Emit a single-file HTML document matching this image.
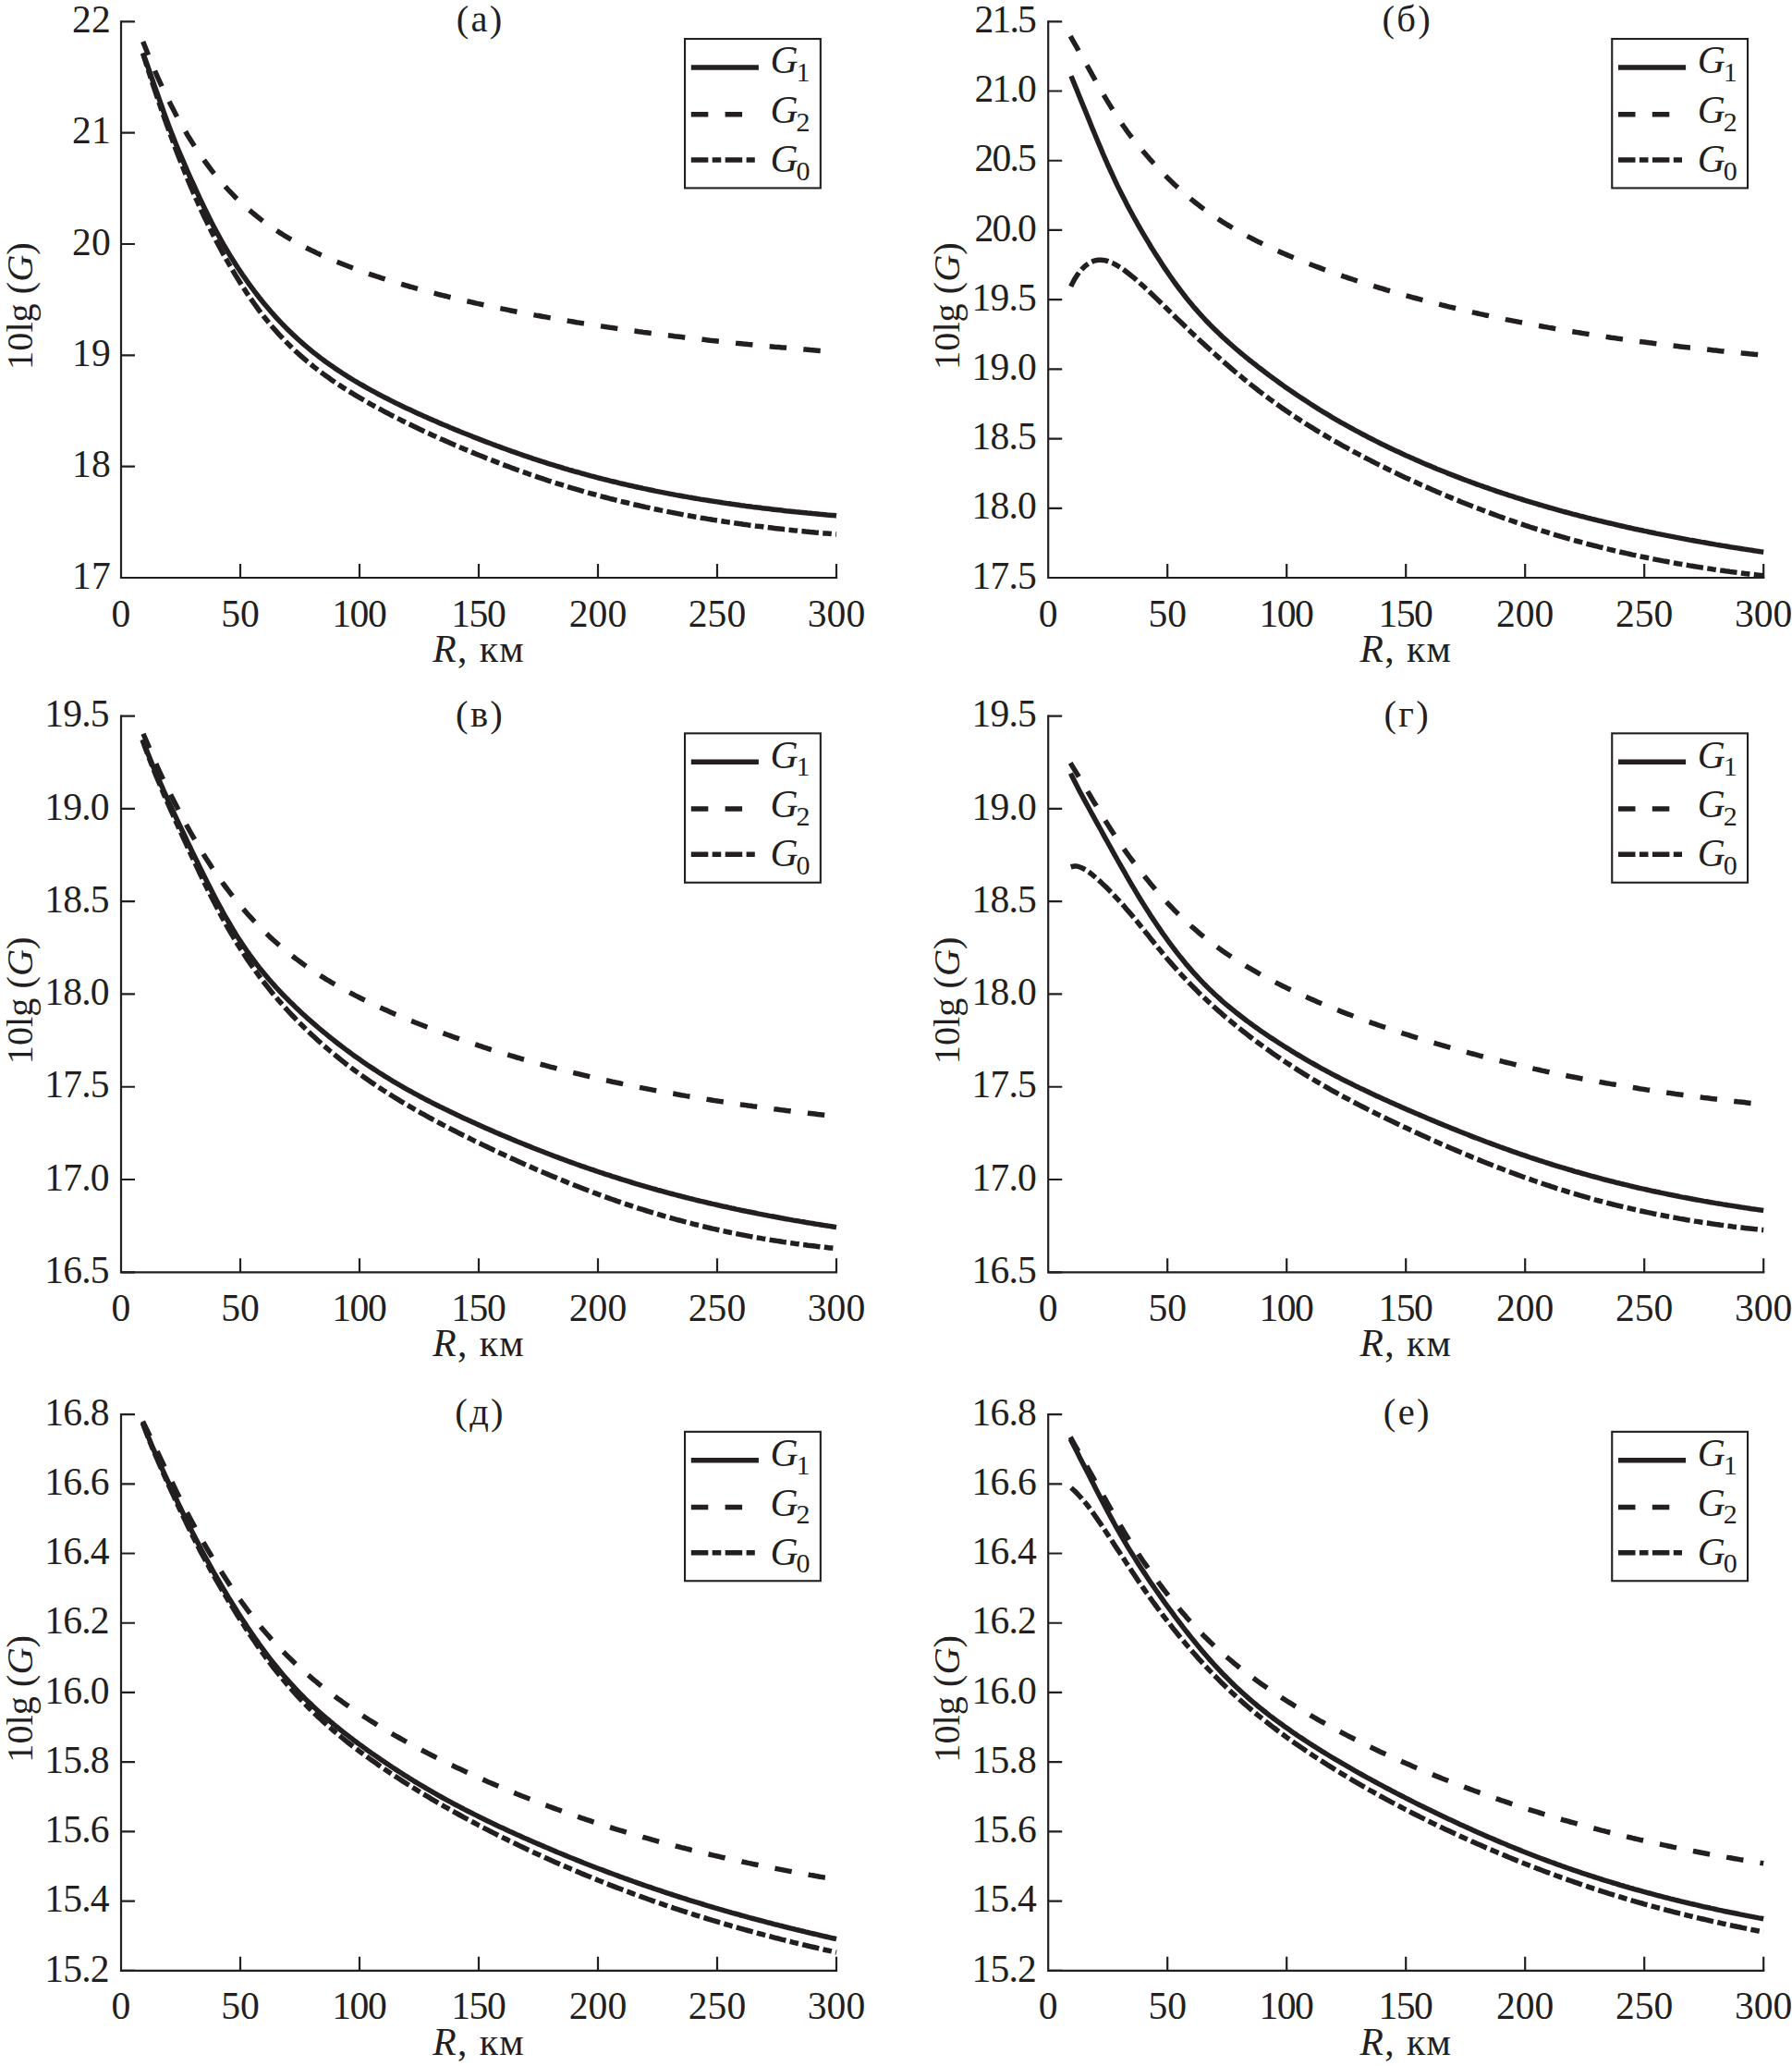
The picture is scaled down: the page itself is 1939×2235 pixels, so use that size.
<!DOCTYPE html>
<html><head><meta charset="utf-8"><title>fig</title>
<style>html,body{margin:0;padding:0;background:#fff}svg{display:block}text{font-family:"Liberation Serif",serif;fill:#231f20}.t{font-size:41.6px}.tt{font-size:40.5px;letter-spacing:2.3px}.s{font-size:30px}.i{font-style:italic}</style></head><body>
<svg width="1939" height="2235" viewBox="0 0 1939 2235">
<rect width="1939" height="2235" fill="#fff"/>
<g id="p_a">
<path d="M131 22.2 V625 H906.1" fill="none" stroke="#231f20" stroke-width="2.2" stroke-linejoin="miter"/>
<text class="t" x="119.7" y="35" text-anchor="end">22</text>
<text class="t" x="119.7" y="155.34" text-anchor="end">21</text>
<text class="t" x="119.7" y="275.68" text-anchor="end">20</text>
<text class="t" x="119.7" y="396.02" text-anchor="end">19</text>
<text class="t" x="119.7" y="516.36" text-anchor="end">18</text>
<text class="t" x="119.7" y="636.7" text-anchor="end">17</text>
<text class="t" x="131" y="677.6" text-anchor="middle">0</text>
<text class="t" x="260" y="677.6" text-anchor="middle">50</text>
<text class="t" x="359.3" y="677.6" textLength="59.4" lengthAdjust="spacing">100</text>
<text class="t" x="488.3" y="677.6" textLength="59.4" lengthAdjust="spacing">150</text>
<text class="t" x="647" y="677.6" text-anchor="middle">200</text>
<text class="t" x="776" y="677.6" text-anchor="middle">250</text>
<text class="t" x="905" y="677.6" text-anchor="middle">300</text>
<path d="M131 23.3h15M131 143.64h15M131 263.98h15M131 384.32h15M131 504.66h15M131 625h15M260 625v-15M389 625v-15M518 625v-15M647 625v-15M776 625v-15M905 625v-15" fill="none" stroke="#231f20" stroke-width="2.2"/>
<text class="tt" x="519.6" y="34.2" text-anchor="middle">(а)</text>
<text class="t" x="468.2" y="715.7" textLength="98.5" lengthAdjust="spacing"><tspan class="i">R</tspan>, км</text>
<text style="font-size:40.3px" transform="translate(34.8 399.9) rotate(-90)">10lg (<tspan class="i">G</tspan>)</text>
<path d="M154.7 44.9 L156.8 50.2 L159.4 56.7 L162.0 63.1 L164.5 69.4 L167.1 75.5 L169.7 81.5 L172.3 87.3 L174.9 92.9 L177.4 98.4 L180.0 103.8 L182.6 109.0 L185.2 114.1 L187.8 119.1 L190.3 123.9 L192.9 128.7 L195.5 133.3 L198.1 137.8 L200.7 142.2 L203.2 146.6 L205.8 150.8 L208.4 154.9 L211.0 158.9 L213.6 162.8 L216.1 166.6 L218.7 170.3 L221.3 174.0 L223.9 177.5 L226.5 181.0 L229.0 184.3 L231.6 187.6 L234.2 190.8 L236.8 193.9 L239.4 196.9 L241.9 199.9 L244.5 202.7 L247.1 205.5 L249.7 208.2 L252.3 210.9 L254.8 213.5 L257.4 216.0 L260.0 218.4 L262.6 220.8 L265.2 223.2 L267.7 225.5 L270.3 227.7 L272.9 229.9 L275.5 232.0 L278.1 234.1 L280.6 236.1 L283.2 238.1 L285.8 240.0 L288.4 241.9 L291.0 243.7 L293.5 245.6 L296.1 247.3 L298.7 249.1 L301.3 250.7 L303.9 252.4 L306.4 254.0 L309.0 255.6 L311.6 257.2 L314.2 258.7 L316.8 260.2 L319.3 261.6 L321.9 263.1 L324.5 264.5 L327.1 265.8 L329.7 267.2 L332.2 268.5 L334.8 269.8 L337.4 271.1 L340.0 272.3 L342.6 273.6 L345.1 274.8 L347.7 276.0 L350.3 277.1 L352.9 278.3 L355.5 279.4 L358.0 280.5 L360.6 281.6 L363.2 282.7 L365.8 283.7 L368.4 284.8 L370.9 285.8 L373.5 286.8 L376.1 287.8 L378.7 288.8 L381.3 289.8 L383.8 290.8 L386.4 291.7 L389.0 292.7 L391.6 293.6 L394.2 294.5 L396.7 295.4 L399.3 296.3 L401.9 297.2 L404.5 298.0 L407.1 298.9 L409.6 299.7 L412.2 300.6 L414.8 301.4 L417.4 302.2 L420.0 303.0 L422.5 303.8 L425.1 304.6 L427.7 305.4 L430.3 306.2 L432.9 307.0 L435.4 307.7 L438.0 308.5 L440.6 309.2 L443.2 310.0 L445.8 310.7 L448.3 311.4 L450.9 312.1 L453.5 312.9 L456.1 313.6 L458.7 314.3 L461.2 314.9 L463.8 315.6 L466.4 316.3 L469.0 317.0 L471.6 317.6 L474.1 318.3 L476.7 319.0 L479.3 319.6 L481.9 320.2 L484.5 320.9 L487.0 321.5 L489.6 322.1 L492.2 322.7 L494.8 323.4 L497.4 324.0 L499.9 324.6 L502.5 325.2 L505.1 325.8 L507.7 326.3 L510.3 326.9 L512.8 327.5 L515.4 328.1 L518.0 328.6 L520.6 329.2 L523.2 329.8 L525.7 330.3 L528.3 330.9 L530.9 331.4 L533.5 332.0 L536.1 332.5 L538.6 333.0 L541.2 333.6 L543.8 334.1 L546.4 334.6 L549.0 335.1 L551.5 335.7 L554.1 336.2 L556.7 336.7 L559.3 337.2 L561.9 337.7 L564.4 338.2 L567.0 338.7 L569.6 339.2 L572.2 339.6 L574.8 340.1 L577.3 340.6 L579.9 341.1 L582.5 341.5 L585.1 342.0 L587.7 342.5 L590.2 342.9 L592.8 343.4 L595.4 343.9 L598.0 344.3 L600.6 344.8 L603.1 345.2 L605.7 345.6 L608.3 346.1 L610.9 346.5 L613.5 347.0 L616.0 347.4 L618.6 347.8 L621.2 348.2 L623.8 348.7 L626.4 349.1 L628.9 349.5 L631.5 349.9 L634.1 350.3 L636.7 350.7 L639.3 351.1 L641.8 351.5 L644.4 351.9 L647.0 352.3 L649.6 352.7 L652.2 353.1 L654.7 353.5 L657.3 353.9 L659.9 354.3 L662.5 354.6 L665.1 355.0 L667.6 355.4 L670.2 355.8 L672.8 356.1 L675.4 356.5 L678.0 356.9 L680.5 357.2 L683.1 357.6 L685.7 358.0 L688.3 358.3 L690.9 358.7 L693.4 359.0 L696.0 359.4 L698.6 359.7 L701.2 360.0 L703.8 360.4 L706.3 360.7 L708.9 361.1 L711.5 361.4 L714.1 361.7 L716.7 362.0 L719.2 362.4 L721.8 362.7 L724.4 363.0 L727.0 363.3 L729.6 363.7 L732.1 364.0 L734.7 364.3 L737.3 364.6 L739.9 364.9 L742.5 365.2 L745.0 365.5 L747.6 365.8 L750.2 366.1 L752.8 366.4 L755.4 366.7 L757.9 367.0 L760.5 367.3 L763.1 367.6 L765.7 367.9 L768.3 368.2 L770.8 368.4 L773.4 368.7 L776.0 369.0 L778.6 369.3 L781.2 369.6 L783.7 369.8 L786.3 370.1 L788.9 370.4 L791.5 370.6 L794.1 370.9 L796.6 371.2 L799.2 371.4 L801.8 371.7 L804.4 372.0 L807.0 372.2 L809.5 372.5 L812.1 372.7 L814.7 373.0 L817.3 373.2 L819.9 373.5 L822.4 373.7 L825.0 374.0 L827.6 374.2 L830.2 374.5 L832.8 374.7 L835.3 374.9 L837.9 375.2 L840.5 375.4 L843.1 375.6 L845.7 375.9 L848.2 376.1 L850.8 376.3 L853.4 376.6 L856.0 376.8 L858.6 377.0 L861.1 377.2 L863.7 377.5 L866.3 377.7 L868.9 377.9 L871.5 378.1 L874.0 378.3 L876.6 378.6 L879.2 378.8 L881.8 379.0 L884.4 379.2 L886.9 379.4 L889.5 379.6 L892.1 379.8 L894.7 380.0 L897.3 380.2 L899.8 380.4 L902.4 380.6 L905.0 380.8" fill="none" stroke="#231f20" stroke-width="5.5" stroke-dasharray="18.5 18.3" stroke-dashoffset="2.7" stroke-linejoin="round"/>
<path d="M154.7 58.2 L156.8 64.7 L159.4 72.8 L162.0 80.7 L164.5 88.6 L167.1 96.3 L169.7 104.0 L172.3 111.5 L174.9 119.0 L177.4 126.4 L180.0 133.7 L182.6 140.8 L185.2 147.9 L187.8 154.9 L190.3 161.7 L192.9 168.4 L195.5 175.1 L198.1 181.6 L200.7 188.0 L203.2 194.2 L205.8 200.4 L208.4 206.4 L211.0 212.4 L213.6 218.2 L216.1 223.9 L218.7 229.5 L221.3 235.0 L223.9 240.3 L226.5 245.6 L229.0 250.8 L231.6 255.9 L234.2 260.9 L236.8 265.8 L239.4 270.6 L241.9 275.3 L244.5 279.9 L247.1 284.5 L249.7 288.9 L252.3 293.3 L254.8 297.6 L257.4 301.8 L260.0 306.0 L262.6 310.0 L265.2 314.0 L267.7 317.9 L270.3 321.7 L272.9 325.4 L275.5 329.0 L278.1 332.6 L280.6 336.1 L283.2 339.5 L285.8 342.8 L288.4 346.0 L291.0 349.2 L293.5 352.3 L296.1 355.3 L298.7 358.2 L301.3 361.1 L303.9 363.9 L306.4 366.6 L309.0 369.3 L311.6 371.9 L314.2 374.5 L316.8 377.0 L319.3 379.4 L321.9 381.8 L324.5 384.1 L327.1 386.4 L329.7 388.6 L332.2 390.8 L334.8 392.9 L337.4 395.0 L340.0 397.1 L342.6 399.1 L345.1 401.1 L347.7 403.0 L350.3 404.9 L352.9 406.8 L355.5 408.6 L358.0 410.4 L360.6 412.2 L363.2 414.0 L365.8 415.7 L368.4 417.4 L370.9 419.1 L373.5 420.7 L376.1 422.4 L378.7 424.0 L381.3 425.5 L383.8 427.1 L386.4 428.7 L389.0 430.2 L391.6 431.7 L394.2 433.2 L396.7 434.7 L399.3 436.1 L401.9 437.6 L404.5 439.0 L407.1 440.4 L409.6 441.8 L412.2 443.2 L414.8 444.6 L417.4 446.0 L420.0 447.3 L422.5 448.7 L425.1 450.0 L427.7 451.3 L430.3 452.6 L432.9 453.9 L435.4 455.2 L438.0 456.5 L440.6 457.8 L443.2 459.0 L445.8 460.3 L448.3 461.5 L450.9 462.7 L453.5 464.0 L456.1 465.2 L458.7 466.4 L461.2 467.6 L463.8 468.8 L466.4 470.0 L469.0 471.2 L471.6 472.3 L474.1 473.5 L476.7 474.7 L479.3 475.8 L481.9 476.9 L484.5 478.1 L487.0 479.2 L489.6 480.3 L492.2 481.5 L494.8 482.6 L497.4 483.7 L499.9 484.8 L502.5 485.9 L505.1 486.9 L507.7 488.0 L510.3 489.1 L512.8 490.1 L515.4 491.2 L518.0 492.3 L520.6 493.3 L523.2 494.3 L525.7 495.4 L528.3 496.4 L530.9 497.4 L533.5 498.4 L536.1 499.4 L538.6 500.4 L541.2 501.4 L543.8 502.4 L546.4 503.4 L549.0 504.3 L551.5 505.3 L554.1 506.3 L556.7 507.2 L559.3 508.2 L561.9 509.1 L564.4 510.0 L567.0 510.9 L569.6 511.8 L572.2 512.8 L574.8 513.7 L577.3 514.5 L579.9 515.4 L582.5 516.3 L585.1 517.2 L587.7 518.0 L590.2 518.9 L592.8 519.8 L595.4 520.6 L598.0 521.4 L600.6 522.3 L603.1 523.1 L605.7 523.9 L608.3 524.7 L610.9 525.5 L613.5 526.3 L616.0 527.1 L618.6 527.9 L621.2 528.6 L623.8 529.4 L626.4 530.1 L628.9 530.9 L631.5 531.6 L634.1 532.4 L636.7 533.1 L639.3 533.8 L641.8 534.5 L644.4 535.2 L647.0 536.0 L649.6 536.6 L652.2 537.3 L654.7 538.0 L657.3 538.7 L659.9 539.4 L662.5 540.0 L665.1 540.7 L667.6 541.3 L670.2 542.0 L672.8 542.6 L675.4 543.2 L678.0 543.8 L680.5 544.4 L683.1 545.1 L685.7 545.7 L688.3 546.2 L690.9 546.8 L693.4 547.4 L696.0 548.0 L698.6 548.6 L701.2 549.1 L703.8 549.7 L706.3 550.2 L708.9 550.8 L711.5 551.3 L714.1 551.9 L716.7 552.4 L719.2 552.9 L721.8 553.4 L724.4 553.9 L727.0 554.4 L729.6 554.9 L732.1 555.4 L734.7 555.9 L737.3 556.4 L739.9 556.9 L742.5 557.3 L745.0 557.8 L747.6 558.3 L750.2 558.7 L752.8 559.2 L755.4 559.6 L757.9 560.1 L760.5 560.5 L763.1 560.9 L765.7 561.4 L768.3 561.8 L770.8 562.2 L773.4 562.6 L776.0 563.0 L778.6 563.4 L781.2 563.8 L783.7 564.2 L786.3 564.6 L788.9 565.0 L791.5 565.3 L794.1 565.7 L796.6 566.1 L799.2 566.4 L801.8 566.8 L804.4 567.2 L807.0 567.5 L809.5 567.9 L812.1 568.2 L814.7 568.5 L817.3 568.9 L819.9 569.2 L822.4 569.5 L825.0 569.8 L827.6 570.2 L830.2 570.5 L832.8 570.8 L835.3 571.1 L837.9 571.4 L840.5 571.7 L843.1 572.0 L845.7 572.3 L848.2 572.6 L850.8 572.8 L853.4 573.1 L856.0 573.4 L858.6 573.7 L861.1 573.9 L863.7 574.2 L866.3 574.5 L868.9 574.7 L871.5 575.0 L874.0 575.2 L876.6 575.5 L879.2 575.7 L881.8 576.0 L884.4 576.2 L886.9 576.4 L889.5 576.7 L892.1 576.9 L894.7 577.1 L897.3 577.3 L899.8 577.6 L902.4 577.8 L905.0 578.0" fill="none" stroke="#231f20" stroke-width="5.5" stroke-dasharray="18.5 4.4 9.6 4.4" stroke-dashoffset="4.7" stroke-linejoin="round"/>
<path d="M154.7 57.3 L156.8 63.1 L159.4 70.5 L162.0 77.9 L164.5 85.2 L167.1 92.6 L169.7 99.9 L172.3 107.3 L174.9 114.6 L177.4 121.9 L180.0 129.0 L182.6 136.0 L185.2 142.8 L187.8 149.3 L190.3 155.7 L192.9 162.0 L195.5 168.1 L198.1 174.2 L200.7 180.1 L203.2 186.0 L205.8 191.8 L208.4 197.5 L211.0 203.2 L213.6 208.8 L216.1 214.4 L218.7 219.8 L221.3 225.2 L223.9 230.5 L226.5 235.7 L229.0 240.8 L231.6 245.8 L234.2 250.6 L236.8 255.4 L239.4 260.0 L241.9 264.6 L244.5 269.0 L247.1 273.4 L249.7 277.6 L252.3 281.7 L254.8 285.8 L257.4 289.8 L260.0 293.6 L262.6 297.5 L265.2 301.2 L267.7 304.8 L270.3 308.4 L272.9 311.9 L275.5 315.4 L278.1 318.7 L280.6 322.0 L283.2 325.2 L285.8 328.4 L288.4 331.5 L291.0 334.5 L293.5 337.5 L296.1 340.4 L298.7 343.3 L301.3 346.1 L303.9 348.8 L306.4 351.5 L309.0 354.1 L311.6 356.7 L314.2 359.2 L316.8 361.7 L319.3 364.1 L321.9 366.5 L324.5 368.8 L327.1 371.1 L329.7 373.4 L332.2 375.5 L334.8 377.7 L337.4 379.8 L340.0 381.9 L342.6 383.9 L345.1 385.9 L347.7 387.9 L350.3 389.8 L352.9 391.7 L355.5 393.5 L358.0 395.3 L360.6 397.1 L363.2 398.9 L365.8 400.6 L368.4 402.3 L370.9 404.0 L373.5 405.6 L376.1 407.3 L378.7 408.9 L381.3 410.5 L383.8 412.0 L386.4 413.5 L389.0 415.1 L391.6 416.5 L394.2 418.0 L396.7 419.5 L399.3 420.9 L401.9 422.3 L404.5 423.7 L407.1 425.1 L409.6 426.5 L412.2 427.8 L414.8 429.2 L417.4 430.5 L420.0 431.8 L422.5 433.1 L425.1 434.4 L427.7 435.7 L430.3 436.9 L432.9 438.2 L435.4 439.4 L438.0 440.7 L440.6 441.9 L443.2 443.1 L445.8 444.3 L448.3 445.5 L450.9 446.7 L453.5 447.9 L456.1 449.0 L458.7 450.2 L461.2 451.3 L463.8 452.5 L466.4 453.6 L469.0 454.7 L471.6 455.8 L474.1 457.0 L476.7 458.1 L479.3 459.2 L481.9 460.2 L484.5 461.3 L487.0 462.4 L489.6 463.5 L492.2 464.6 L494.8 465.6 L497.4 466.7 L499.9 467.7 L502.5 468.8 L505.1 469.8 L507.7 470.8 L510.3 471.8 L512.8 472.9 L515.4 473.9 L518.0 474.9 L520.6 475.9 L523.2 476.9 L525.7 477.9 L528.3 478.8 L530.9 479.8 L533.5 480.8 L536.1 481.7 L538.6 482.7 L541.2 483.6 L543.8 484.6 L546.4 485.5 L549.0 486.5 L551.5 487.4 L554.1 488.3 L556.7 489.2 L559.3 490.1 L561.9 491.0 L564.4 491.9 L567.0 492.8 L569.6 493.7 L572.2 494.5 L574.8 495.4 L577.3 496.3 L579.9 497.1 L582.5 498.0 L585.1 498.8 L587.7 499.6 L590.2 500.4 L592.8 501.3 L595.4 502.1 L598.0 502.9 L600.6 503.7 L603.1 504.5 L605.7 505.2 L608.3 506.0 L610.9 506.8 L613.5 507.5 L616.0 508.3 L618.6 509.0 L621.2 509.8 L623.8 510.5 L626.4 511.2 L628.9 512.0 L631.5 512.7 L634.1 513.4 L636.7 514.1 L639.3 514.8 L641.8 515.4 L644.4 516.1 L647.0 516.8 L649.6 517.5 L652.2 518.1 L654.7 518.8 L657.3 519.4 L659.9 520.1 L662.5 520.7 L665.1 521.3 L667.6 521.9 L670.2 522.6 L672.8 523.2 L675.4 523.8 L678.0 524.4 L680.5 525.0 L683.1 525.5 L685.7 526.1 L688.3 526.7 L690.9 527.3 L693.4 527.8 L696.0 528.4 L698.6 528.9 L701.2 529.5 L703.8 530.0 L706.3 530.5 L708.9 531.1 L711.5 531.6 L714.1 532.1 L716.7 532.6 L719.2 533.1 L721.8 533.6 L724.4 534.1 L727.0 534.6 L729.6 535.1 L732.1 535.6 L734.7 536.0 L737.3 536.5 L739.9 537.0 L742.5 537.4 L745.0 537.9 L747.6 538.3 L750.2 538.8 L752.8 539.2 L755.4 539.6 L757.9 540.1 L760.5 540.5 L763.1 540.9 L765.7 541.3 L768.3 541.7 L770.8 542.1 L773.4 542.5 L776.0 542.9 L778.6 543.3 L781.2 543.7 L783.7 544.1 L786.3 544.5 L788.9 544.8 L791.5 545.2 L794.1 545.6 L796.6 545.9 L799.2 546.3 L801.8 546.7 L804.4 547.0 L807.0 547.4 L809.5 547.7 L812.1 548.0 L814.7 548.4 L817.3 548.7 L819.9 549.0 L822.4 549.3 L825.0 549.7 L827.6 550.0 L830.2 550.3 L832.8 550.6 L835.3 550.9 L837.9 551.2 L840.5 551.5 L843.1 551.8 L845.7 552.1 L848.2 552.4 L850.8 552.7 L853.4 552.9 L856.0 553.2 L858.6 553.5 L861.1 553.8 L863.7 554.0 L866.3 554.3 L868.9 554.5 L871.5 554.8 L874.0 555.1 L876.6 555.3 L879.2 555.6 L881.8 555.8 L884.4 556.0 L886.9 556.3 L889.5 556.5 L892.1 556.7 L894.7 557.0 L897.3 557.2 L899.8 557.4 L902.4 557.6 L905.0 557.9" fill="none" stroke="#231f20" stroke-width="5.5" stroke-linejoin="round"/>
<rect x="741.05" y="42.05" width="146.8" height="161.4" fill="#fff" stroke="#231f20" stroke-width="2.1"/>
<path d="M747.8 73h73.1" stroke="#231f20" stroke-width="5.5" fill="none"/>
<path d="M747.8 123.7h55.3" stroke="#231f20" stroke-width="5.5" stroke-dasharray="18.5 18.3" fill="none"/>
<path d="M747.8 172.9h69" stroke="#231f20" stroke-width="5.5" stroke-dasharray="18.5 4.4 9.6 4.4" fill="none"/>
<text class="t i" x="833.6" y="79.2">G<tspan class="s" style="font-style:normal" dx="-2.2" dy="8.6">1</tspan></text>
<text class="t i" x="833.6" y="133">G<tspan class="s" style="font-style:normal" dx="-2.2" dy="8.6">2</tspan></text>
<text class="t i" x="833.6" y="185.9">G<tspan class="s" style="font-style:normal" dx="-2.2" dy="8.6">0</tspan></text>
</g>
<g id="p_b">
<path d="M1134.2 22.2 V625 H1909.3" fill="none" stroke="#231f20" stroke-width="2.2" stroke-linejoin="miter"/>
<text class="t" x="1054.5" y="35" textLength="67.3" lengthAdjust="spacing">21.5</text>
<text class="t" x="1054.5" y="110.21" textLength="67.3" lengthAdjust="spacing">21.0</text>
<text class="t" x="1054.5" y="185.43" textLength="67.3" lengthAdjust="spacing">20.5</text>
<text class="t" x="1054.5" y="260.64" textLength="67.3" lengthAdjust="spacing">20.0</text>
<text class="t" x="1051.4" y="335.85" textLength="70.4" lengthAdjust="spacing">19.5</text>
<text class="t" x="1051.4" y="411.06" textLength="70.4" lengthAdjust="spacing">19.0</text>
<text class="t" x="1051.4" y="486.28" textLength="70.4" lengthAdjust="spacing">18.5</text>
<text class="t" x="1051.4" y="561.49" textLength="70.4" lengthAdjust="spacing">18.0</text>
<text class="t" x="1051.4" y="636.7" textLength="70.4" lengthAdjust="spacing">17.5</text>
<text class="t" x="1134.2" y="677.6" text-anchor="middle">0</text>
<text class="t" x="1263.2" y="677.6" text-anchor="middle">50</text>
<text class="t" x="1362.5" y="677.6" textLength="59.4" lengthAdjust="spacing">100</text>
<text class="t" x="1491.5" y="677.6" textLength="59.4" lengthAdjust="spacing">150</text>
<text class="t" x="1650.2" y="677.6" text-anchor="middle">200</text>
<text class="t" x="1779.2" y="677.6" text-anchor="middle">250</text>
<text class="t" x="1908.2" y="677.6" text-anchor="middle">300</text>
<path d="M1134.2 23.3h15M1134.2 98.51h15M1134.2 173.73h15M1134.2 248.94h15M1134.2 324.15h15M1134.2 399.36h15M1134.2 474.58h15M1134.2 549.79h15M1134.2 625h15M1263.2 625v-15M1392.2 625v-15M1521.2 625v-15M1650.2 625v-15M1779.2 625v-15M1908.2 625v-15" fill="none" stroke="#231f20" stroke-width="2.2"/>
<text class="tt" x="1522.8" y="34.2" text-anchor="middle">(б)</text>
<text class="t" x="1471.4" y="715.7" textLength="98.5" lengthAdjust="spacing"><tspan class="i">R</tspan>, км</text>
<text style="font-size:40.3px" transform="translate(1038 399.9) rotate(-90)">10lg (<tspan class="i">G</tspan>)</text>
<path d="M1158.2 39.2 L1160.0 42.3 L1162.6 46.9 L1165.2 51.4 L1167.7 56.0 L1170.3 60.5 L1172.9 65.1 L1175.5 69.6 L1178.1 74.2 L1180.6 78.7 L1183.2 83.3 L1185.8 87.8 L1188.4 92.4 L1191.0 96.9 L1193.5 101.4 L1196.1 105.8 L1198.7 110.2 L1201.3 114.4 L1203.9 118.6 L1206.4 122.7 L1209.0 126.7 L1211.6 130.6 L1214.2 134.4 L1216.8 138.0 L1219.3 141.6 L1221.9 145.1 L1224.5 148.5 L1227.1 151.8 L1229.7 155.0 L1232.2 158.2 L1234.8 161.3 L1237.4 164.3 L1240.0 167.3 L1242.6 170.3 L1245.1 173.2 L1247.7 176.0 L1250.3 178.8 L1252.9 181.6 L1255.5 184.3 L1258.0 187.0 L1260.6 189.6 L1263.2 192.2 L1265.8 194.7 L1268.4 197.2 L1270.9 199.7 L1273.5 202.1 L1276.1 204.4 L1278.7 206.7 L1281.3 209.0 L1283.8 211.2 L1286.4 213.4 L1289.0 215.6 L1291.6 217.7 L1294.2 219.7 L1296.7 221.7 L1299.3 223.7 L1301.9 225.6 L1304.5 227.5 L1307.1 229.4 L1309.6 231.2 L1312.2 233.0 L1314.8 234.7 L1317.4 236.4 L1320.0 238.1 L1322.5 239.8 L1325.1 241.4 L1327.7 243.0 L1330.3 244.5 L1332.9 246.1 L1335.4 247.6 L1338.0 249.1 L1340.6 250.5 L1343.2 251.9 L1345.8 253.3 L1348.3 254.7 L1350.9 256.1 L1353.5 257.4 L1356.1 258.8 L1358.7 260.1 L1361.2 261.4 L1363.8 262.6 L1366.4 263.9 L1369.0 265.1 L1371.6 266.3 L1374.1 267.6 L1376.7 268.7 L1379.3 269.9 L1381.9 271.1 L1384.5 272.2 L1387.0 273.4 L1389.6 274.5 L1392.2 275.6 L1394.8 276.7 L1397.4 277.8 L1399.9 278.8 L1402.5 279.9 L1405.1 280.9 L1407.7 282.0 L1410.3 283.0 L1412.8 284.0 L1415.4 285.0 L1418.0 286.0 L1420.6 287.0 L1423.2 288.0 L1425.7 288.9 L1428.3 289.9 L1430.9 290.9 L1433.5 291.8 L1436.1 292.7 L1438.6 293.7 L1441.2 294.6 L1443.8 295.5 L1446.4 296.4 L1449.0 297.3 L1451.5 298.2 L1454.1 299.1 L1456.7 299.9 L1459.3 300.8 L1461.9 301.7 L1464.4 302.5 L1467.0 303.4 L1469.6 304.2 L1472.2 305.0 L1474.8 305.9 L1477.3 306.7 L1479.9 307.5 L1482.5 308.3 L1485.1 309.1 L1487.7 309.9 L1490.2 310.7 L1492.8 311.5 L1495.4 312.2 L1498.0 313.0 L1500.6 313.8 L1503.1 314.5 L1505.7 315.3 L1508.3 316.0 L1510.9 316.8 L1513.5 317.5 L1516.0 318.3 L1518.6 319.0 L1521.2 319.7 L1523.8 320.4 L1526.4 321.1 L1528.9 321.8 L1531.5 322.5 L1534.1 323.2 L1536.7 323.9 L1539.3 324.6 L1541.8 325.3 L1544.4 325.9 L1547.0 326.6 L1549.6 327.3 L1552.2 327.9 L1554.7 328.6 L1557.3 329.2 L1559.9 329.9 L1562.5 330.5 L1565.1 331.2 L1567.6 331.8 L1570.2 332.4 L1572.8 333.0 L1575.4 333.6 L1578.0 334.3 L1580.5 334.9 L1583.1 335.5 L1585.7 336.1 L1588.3 336.7 L1590.9 337.2 L1593.4 337.8 L1596.0 338.4 L1598.6 339.0 L1601.2 339.6 L1603.8 340.1 L1606.3 340.7 L1608.9 341.2 L1611.5 341.8 L1614.1 342.4 L1616.7 342.9 L1619.2 343.4 L1621.8 344.0 L1624.4 344.5 L1627.0 345.0 L1629.6 345.6 L1632.1 346.1 L1634.7 346.6 L1637.3 347.1 L1639.9 347.6 L1642.5 348.1 L1645.0 348.6 L1647.6 349.1 L1650.2 349.6 L1652.8 350.1 L1655.4 350.6 L1657.9 351.1 L1660.5 351.6 L1663.1 352.1 L1665.7 352.5 L1668.3 353.0 L1670.8 353.5 L1673.4 353.9 L1676.0 354.4 L1678.6 354.8 L1681.2 355.3 L1683.7 355.7 L1686.3 356.2 L1688.9 356.6 L1691.5 357.1 L1694.1 357.5 L1696.6 357.9 L1699.2 358.4 L1701.8 358.8 L1704.4 359.2 L1707.0 359.6 L1709.5 360.0 L1712.1 360.5 L1714.7 360.9 L1717.3 361.3 L1719.9 361.7 L1722.4 362.1 L1725.0 362.5 L1727.6 362.9 L1730.2 363.2 L1732.8 363.6 L1735.3 364.0 L1737.9 364.4 L1740.5 364.8 L1743.1 365.2 L1745.7 365.5 L1748.2 365.9 L1750.8 366.3 L1753.4 366.6 L1756.0 367.0 L1758.6 367.3 L1761.1 367.7 L1763.7 368.1 L1766.3 368.4 L1768.9 368.7 L1771.5 369.1 L1774.0 369.4 L1776.6 369.8 L1779.2 370.1 L1781.8 370.4 L1784.4 370.8 L1786.9 371.1 L1789.5 371.4 L1792.1 371.8 L1794.7 372.1 L1797.3 372.4 L1799.8 372.7 L1802.4 373.0 L1805.0 373.3 L1807.6 373.7 L1810.2 374.0 L1812.7 374.3 L1815.3 374.6 L1817.9 374.9 L1820.5 375.2 L1823.1 375.5 L1825.6 375.8 L1828.2 376.1 L1830.8 376.3 L1833.4 376.6 L1836.0 376.9 L1838.5 377.2 L1841.1 377.5 L1843.7 377.8 L1846.3 378.0 L1848.9 378.3 L1851.4 378.6 L1854.0 378.9 L1856.6 379.1 L1859.2 379.4 L1861.8 379.7 L1864.3 379.9 L1866.9 380.2 L1869.5 380.4 L1872.1 380.7 L1874.7 381.0 L1877.2 381.2 L1879.8 381.5 L1882.4 381.7 L1885.0 382.0 L1887.6 382.2 L1890.1 382.4 L1892.7 382.7 L1895.3 382.9 L1897.9 383.2 L1900.5 383.4 L1903.0 383.6 L1905.6 383.9 L1908.2 384.1" fill="none" stroke="#231f20" stroke-width="5.5" stroke-dasharray="18.5 18.3" stroke-dashoffset="0.6" stroke-linejoin="round"/>
<path d="M1158.7 309.9 L1160.0 307.2 L1162.6 302.3 L1165.2 298.1 L1167.7 294.5 L1170.3 291.4 L1172.9 288.9 L1175.5 286.7 L1178.1 284.9 L1180.6 283.5 L1183.2 282.4 L1185.8 281.7 L1188.4 281.3 L1191.0 281.2 L1193.5 281.4 L1196.1 281.8 L1198.7 282.5 L1201.3 283.5 L1203.9 284.6 L1206.4 285.9 L1209.0 287.4 L1211.6 289.0 L1214.2 290.7 L1216.8 292.5 L1219.3 294.5 L1221.9 296.5 L1224.5 298.6 L1227.1 300.7 L1229.7 302.9 L1232.2 305.2 L1234.8 307.5 L1237.4 309.8 L1240.0 312.2 L1242.6 314.6 L1245.1 317.0 L1247.7 319.5 L1250.3 321.9 L1252.9 324.4 L1255.5 326.9 L1258.0 329.4 L1260.6 332.0 L1263.2 334.5 L1265.8 337.0 L1268.4 339.5 L1270.9 342.0 L1273.5 344.6 L1276.1 347.1 L1278.7 349.6 L1281.3 352.1 L1283.8 354.5 L1286.4 357.0 L1289.0 359.5 L1291.6 361.9 L1294.2 364.3 L1296.7 366.8 L1299.3 369.2 L1301.9 371.6 L1304.5 373.9 L1307.1 376.3 L1309.6 378.6 L1312.2 381.0 L1314.8 383.3 L1317.4 385.6 L1320.0 387.9 L1322.5 390.1 L1325.1 392.4 L1327.7 394.6 L1330.3 396.9 L1332.9 399.1 L1335.4 401.3 L1338.0 403.4 L1340.6 405.6 L1343.2 407.7 L1345.8 409.8 L1348.3 411.9 L1350.9 414.0 L1353.5 416.1 L1356.1 418.1 L1358.7 420.2 L1361.2 422.2 L1363.8 424.1 L1366.4 426.1 L1369.0 428.1 L1371.6 430.0 L1374.1 431.9 L1376.7 433.8 L1379.3 435.7 L1381.9 437.5 L1384.5 439.4 L1387.0 441.2 L1389.6 443.0 L1392.2 444.8 L1394.8 446.5 L1397.4 448.3 L1399.9 450.0 L1402.5 451.7 L1405.1 453.4 L1407.7 455.1 L1410.3 456.7 L1412.8 458.4 L1415.4 460.0 L1418.0 461.6 L1420.6 463.2 L1423.2 464.8 L1425.7 466.4 L1428.3 467.9 L1430.9 469.5 L1433.5 471.0 L1436.1 472.5 L1438.6 474.0 L1441.2 475.5 L1443.8 477.0 L1446.4 478.5 L1449.0 479.9 L1451.5 481.4 L1454.1 482.8 L1456.7 484.2 L1459.3 485.7 L1461.9 487.1 L1464.4 488.5 L1467.0 489.8 L1469.6 491.2 L1472.2 492.6 L1474.8 493.9 L1477.3 495.3 L1479.9 496.6 L1482.5 497.9 L1485.1 499.3 L1487.7 500.6 L1490.2 501.9 L1492.8 503.2 L1495.4 504.5 L1498.0 505.7 L1500.6 507.0 L1503.1 508.3 L1505.7 509.5 L1508.3 510.8 L1510.9 512.0 L1513.5 513.2 L1516.0 514.5 L1518.6 515.7 L1521.2 516.9 L1523.8 518.1 L1526.4 519.3 L1528.9 520.4 L1531.5 521.6 L1534.1 522.8 L1536.7 524.0 L1539.3 525.1 L1541.8 526.3 L1544.4 527.4 L1547.0 528.5 L1549.6 529.7 L1552.2 530.8 L1554.7 531.9 L1557.3 533.0 L1559.9 534.1 L1562.5 535.2 L1565.1 536.3 L1567.6 537.4 L1570.2 538.4 L1572.8 539.5 L1575.4 540.6 L1578.0 541.6 L1580.5 542.7 L1583.1 543.7 L1585.7 544.7 L1588.3 545.8 L1590.9 546.8 L1593.4 547.8 L1596.0 548.8 L1598.6 549.8 L1601.2 550.8 L1603.8 551.8 L1606.3 552.7 L1608.9 553.7 L1611.5 554.7 L1614.1 555.6 L1616.7 556.6 L1619.2 557.5 L1621.8 558.5 L1624.4 559.4 L1627.0 560.3 L1629.6 561.2 L1632.1 562.1 L1634.7 563.0 L1637.3 563.9 L1639.9 564.8 L1642.5 565.7 L1645.0 566.6 L1647.6 567.4 L1650.2 568.3 L1652.8 569.1 L1655.4 570.0 L1657.9 570.8 L1660.5 571.7 L1663.1 572.5 L1665.7 573.3 L1668.3 574.1 L1670.8 574.9 L1673.4 575.7 L1676.0 576.5 L1678.6 577.3 L1681.2 578.1 L1683.7 578.9 L1686.3 579.6 L1688.9 580.4 L1691.5 581.1 L1694.1 581.9 L1696.6 582.6 L1699.2 583.3 L1701.8 584.1 L1704.4 584.8 L1707.0 585.5 L1709.5 586.2 L1712.1 586.9 L1714.7 587.6 L1717.3 588.3 L1719.9 589.0 L1722.4 589.6 L1725.0 590.3 L1727.6 590.9 L1730.2 591.6 L1732.8 592.2 L1735.3 592.9 L1737.9 593.5 L1740.5 594.1 L1743.1 594.8 L1745.7 595.4 L1748.2 596.0 L1750.8 596.6 L1753.4 597.2 L1756.0 597.8 L1758.6 598.3 L1761.1 598.9 L1763.7 599.5 L1766.3 600.1 L1768.9 600.6 L1771.5 601.2 L1774.0 601.7 L1776.6 602.3 L1779.2 602.8 L1781.8 603.3 L1784.4 603.8 L1786.9 604.4 L1789.5 604.9 L1792.1 605.4 L1794.7 605.9 L1797.3 606.4 L1799.8 606.9 L1802.4 607.3 L1805.0 607.8 L1807.6 608.3 L1810.2 608.7 L1812.7 609.2 L1815.3 609.7 L1817.9 610.1 L1820.5 610.6 L1823.1 611.0 L1825.6 611.4 L1828.2 611.9 L1830.8 612.3 L1833.4 612.7 L1836.0 613.1 L1838.5 613.5 L1841.1 613.9 L1843.7 614.3 L1846.3 614.7 L1848.9 615.1 L1851.4 615.5 L1854.0 615.9 L1856.6 616.2 L1859.2 616.6 L1861.8 617.0 L1864.3 617.3 L1866.9 617.7 L1869.5 618.0 L1872.1 618.4 L1874.7 618.7 L1877.2 619.1 L1879.8 619.4 L1882.4 619.7 L1885.0 620.1 L1887.6 620.4 L1890.1 620.7 L1892.7 621.0 L1895.3 621.3 L1897.9 621.6 L1900.5 621.9 L1903.0 622.2 L1905.6 622.5 L1908.2 622.8" fill="none" stroke="#231f20" stroke-width="5.5" stroke-dasharray="18.5 4.4 9.6 4.4" stroke-dashoffset="1.2" stroke-linejoin="round"/>
<path d="M1159.0 82.3 L1162.6 91.1 L1165.2 97.4 L1167.7 103.8 L1170.3 110.1 L1172.9 116.4 L1175.5 122.7 L1178.1 129.1 L1180.6 135.4 L1183.2 141.7 L1185.8 148.0 L1188.4 154.2 L1191.0 160.4 L1193.5 166.5 L1196.1 172.4 L1198.7 178.3 L1201.3 184.0 L1203.9 189.7 L1206.4 195.2 L1209.0 200.6 L1211.6 205.9 L1214.2 211.1 L1216.8 216.1 L1219.3 221.1 L1221.9 226.0 L1224.5 230.8 L1227.1 235.5 L1229.7 240.1 L1232.2 244.7 L1234.8 249.2 L1237.4 253.6 L1240.0 257.9 L1242.6 262.2 L1245.1 266.5 L1247.7 270.6 L1250.3 274.7 L1252.9 278.8 L1255.5 282.8 L1258.0 286.7 L1260.6 290.6 L1263.2 294.4 L1265.8 298.2 L1268.4 301.9 L1270.9 305.5 L1273.5 309.0 L1276.1 312.5 L1278.7 315.9 L1281.3 319.2 L1283.8 322.5 L1286.4 325.7 L1289.0 328.8 L1291.6 331.9 L1294.2 334.9 L1296.7 337.8 L1299.3 340.7 L1301.9 343.5 L1304.5 346.3 L1307.1 349.0 L1309.6 351.6 L1312.2 354.2 L1314.8 356.8 L1317.4 359.3 L1320.0 361.7 L1322.5 364.2 L1325.1 366.6 L1327.7 368.9 L1330.3 371.2 L1332.9 373.5 L1335.4 375.7 L1338.0 378.0 L1340.6 380.2 L1343.2 382.3 L1345.8 384.5 L1348.3 386.6 L1350.9 388.7 L1353.5 390.7 L1356.1 392.8 L1358.7 394.8 L1361.2 396.8 L1363.8 398.8 L1366.4 400.8 L1369.0 402.8 L1371.6 404.7 L1374.1 406.6 L1376.7 408.5 L1379.3 410.4 L1381.9 412.3 L1384.5 414.2 L1387.0 416.0 L1389.6 417.9 L1392.2 419.7 L1394.8 421.5 L1397.4 423.2 L1399.9 425.0 L1402.5 426.8 L1405.1 428.5 L1407.7 430.2 L1410.3 431.9 L1412.8 433.6 L1415.4 435.3 L1418.0 437.0 L1420.6 438.6 L1423.2 440.3 L1425.7 441.9 L1428.3 443.5 L1430.9 445.1 L1433.5 446.6 L1436.1 448.2 L1438.6 449.7 L1441.2 451.3 L1443.8 452.8 L1446.4 454.3 L1449.0 455.8 L1451.5 457.3 L1454.1 458.7 L1456.7 460.2 L1459.3 461.6 L1461.9 463.0 L1464.4 464.4 L1467.0 465.8 L1469.6 467.2 L1472.2 468.6 L1474.8 470.0 L1477.3 471.3 L1479.9 472.7 L1482.5 474.0 L1485.1 475.3 L1487.7 476.6 L1490.2 477.9 L1492.8 479.2 L1495.4 480.5 L1498.0 481.7 L1500.6 483.0 L1503.1 484.2 L1505.7 485.5 L1508.3 486.7 L1510.9 487.9 L1513.5 489.1 L1516.0 490.3 L1518.6 491.5 L1521.2 492.7 L1523.8 493.8 L1526.4 495.0 L1528.9 496.1 L1531.5 497.3 L1534.1 498.4 L1536.7 499.5 L1539.3 500.7 L1541.8 501.8 L1544.4 502.9 L1547.0 503.9 L1549.6 505.0 L1552.2 506.1 L1554.7 507.2 L1557.3 508.2 L1559.9 509.3 L1562.5 510.3 L1565.1 511.3 L1567.6 512.4 L1570.2 513.4 L1572.8 514.4 L1575.4 515.4 L1578.0 516.4 L1580.5 517.4 L1583.1 518.4 L1585.7 519.3 L1588.3 520.3 L1590.9 521.2 L1593.4 522.2 L1596.0 523.1 L1598.6 524.1 L1601.2 525.0 L1603.8 525.9 L1606.3 526.8 L1608.9 527.7 L1611.5 528.6 L1614.1 529.5 L1616.7 530.4 L1619.2 531.3 L1621.8 532.2 L1624.4 533.0 L1627.0 533.9 L1629.6 534.7 L1632.1 535.6 L1634.7 536.4 L1637.3 537.2 L1639.9 538.1 L1642.5 538.9 L1645.0 539.7 L1647.6 540.5 L1650.2 541.3 L1652.8 542.1 L1655.4 542.9 L1657.9 543.7 L1660.5 544.4 L1663.1 545.2 L1665.7 546.0 L1668.3 546.7 L1670.8 547.5 L1673.4 548.2 L1676.0 549.0 L1678.6 549.7 L1681.2 550.4 L1683.7 551.1 L1686.3 551.9 L1688.9 552.6 L1691.5 553.3 L1694.1 554.0 L1696.6 554.7 L1699.2 555.4 L1701.8 556.1 L1704.4 556.7 L1707.0 557.4 L1709.5 558.1 L1712.1 558.7 L1714.7 559.4 L1717.3 560.1 L1719.9 560.7 L1722.4 561.4 L1725.0 562.0 L1727.6 562.6 L1730.2 563.3 L1732.8 563.9 L1735.3 564.5 L1737.9 565.1 L1740.5 565.7 L1743.1 566.3 L1745.7 566.9 L1748.2 567.5 L1750.8 568.1 L1753.4 568.7 L1756.0 569.3 L1758.6 569.9 L1761.1 570.5 L1763.7 571.0 L1766.3 571.6 L1768.9 572.2 L1771.5 572.7 L1774.0 573.3 L1776.6 573.8 L1779.2 574.4 L1781.8 574.9 L1784.4 575.5 L1786.9 576.0 L1789.5 576.5 L1792.1 577.1 L1794.7 577.6 L1797.3 578.1 L1799.8 578.6 L1802.4 579.1 L1805.0 579.6 L1807.6 580.1 L1810.2 580.6 L1812.7 581.1 L1815.3 581.6 L1817.9 582.1 L1820.5 582.6 L1823.1 583.1 L1825.6 583.6 L1828.2 584.1 L1830.8 584.5 L1833.4 585.0 L1836.0 585.5 L1838.5 585.9 L1841.1 586.4 L1843.7 586.8 L1846.3 587.3 L1848.9 587.8 L1851.4 588.2 L1854.0 588.6 L1856.6 589.1 L1859.2 589.5 L1861.8 590.0 L1864.3 590.4 L1866.9 590.8 L1869.5 591.2 L1872.1 591.7 L1874.7 592.1 L1877.2 592.5 L1879.8 592.9 L1882.4 593.3 L1885.0 593.7 L1887.6 594.1 L1890.1 594.5 L1892.7 594.9 L1895.3 595.3 L1897.9 595.7 L1900.5 596.1 L1903.0 596.5 L1905.6 596.9 L1908.2 597.3" fill="none" stroke="#231f20" stroke-width="5.5" stroke-linejoin="round"/>
<rect x="1744.25" y="42.05" width="146.8" height="161.4" fill="#fff" stroke="#231f20" stroke-width="2.1"/>
<path d="M1751 73h73.1" stroke="#231f20" stroke-width="5.5" fill="none"/>
<path d="M1751 123.7h55.3" stroke="#231f20" stroke-width="5.5" stroke-dasharray="18.5 18.3" fill="none"/>
<path d="M1751 172.9h69" stroke="#231f20" stroke-width="5.5" stroke-dasharray="18.5 4.4 9.6 4.4" fill="none"/>
<text class="t i" x="1836.8" y="79.2">G<tspan class="s" style="font-style:normal" dx="-2.2" dy="8.6">1</tspan></text>
<text class="t i" x="1836.8" y="133">G<tspan class="s" style="font-style:normal" dx="-2.2" dy="8.6">2</tspan></text>
<text class="t i" x="1836.8" y="185.9">G<tspan class="s" style="font-style:normal" dx="-2.2" dy="8.6">0</tspan></text>
</g>
<g id="p_v">
<path d="M131 773.5 V1376.3 H906.1" fill="none" stroke="#231f20" stroke-width="2.2" stroke-linejoin="miter"/>
<text class="t" x="48.2" y="786.3" textLength="70.4" lengthAdjust="spacing">19.5</text>
<text class="t" x="48.2" y="886.58" textLength="70.4" lengthAdjust="spacing">19.0</text>
<text class="t" x="48.2" y="986.87" textLength="70.4" lengthAdjust="spacing">18.5</text>
<text class="t" x="48.2" y="1087.15" textLength="70.4" lengthAdjust="spacing">18.0</text>
<text class="t" x="48.2" y="1187.43" textLength="70.4" lengthAdjust="spacing">17.5</text>
<text class="t" x="48.2" y="1287.72" textLength="70.4" lengthAdjust="spacing">17.0</text>
<text class="t" x="48.2" y="1388" textLength="70.4" lengthAdjust="spacing">16.5</text>
<text class="t" x="131" y="1428.9" text-anchor="middle">0</text>
<text class="t" x="260" y="1428.9" text-anchor="middle">50</text>
<text class="t" x="359.3" y="1428.9" textLength="59.4" lengthAdjust="spacing">100</text>
<text class="t" x="488.3" y="1428.9" textLength="59.4" lengthAdjust="spacing">150</text>
<text class="t" x="647" y="1428.9" text-anchor="middle">200</text>
<text class="t" x="776" y="1428.9" text-anchor="middle">250</text>
<text class="t" x="905" y="1428.9" text-anchor="middle">300</text>
<path d="M131 774.6h15M131 874.88h15M131 975.17h15M131 1075.45h15M131 1175.73h15M131 1276.02h15M131 1376.3h15M260 1376.3v-15M389 1376.3v-15M518 1376.3v-15M647 1376.3v-15M776 1376.3v-15M905 1376.3v-15" fill="none" stroke="#231f20" stroke-width="2.2"/>
<text class="tt" x="519.6" y="785.5" text-anchor="middle">(в)</text>
<text class="t" x="468.2" y="1467" textLength="98.5" lengthAdjust="spacing"><tspan class="i">R</tspan>, км</text>
<text style="font-size:40.3px" transform="translate(34.8 1151.2) rotate(-90)">10lg (<tspan class="i">G</tspan>)</text>
<path d="M155.0 793.7 L156.8 798.0 L159.4 804.1 L162.0 810.2 L164.5 816.3 L167.1 822.4 L169.7 828.3 L172.3 834.1 L174.9 839.6 L177.4 845.1 L180.0 850.4 L182.6 855.6 L185.2 860.7 L187.8 865.8 L190.3 870.8 L192.9 875.8 L195.5 880.8 L198.1 885.6 L200.7 890.4 L203.2 895.2 L205.8 899.8 L208.4 904.4 L211.0 908.9 L213.6 913.3 L216.1 917.6 L218.7 921.8 L221.3 926.0 L223.9 930.1 L226.5 934.0 L229.0 938.0 L231.6 941.8 L234.2 945.6 L236.8 949.3 L239.4 952.9 L241.9 956.5 L244.5 960.0 L247.1 963.4 L249.7 966.8 L252.3 970.1 L254.8 973.3 L257.4 976.5 L260.0 979.6 L262.6 982.6 L265.2 985.6 L267.7 988.6 L270.3 991.4 L272.9 994.2 L275.5 997.0 L278.1 999.7 L280.6 1002.4 L283.2 1005.0 L285.8 1007.5 L288.4 1010.0 L291.0 1012.5 L293.5 1014.9 L296.1 1017.2 L298.7 1019.5 L301.3 1021.8 L303.9 1024.0 L306.4 1026.2 L309.0 1028.3 L311.6 1030.4 L314.2 1032.5 L316.8 1034.5 L319.3 1036.5 L321.9 1038.4 L324.5 1040.3 L327.1 1042.2 L329.7 1044.1 L332.2 1045.9 L334.8 1047.6 L337.4 1049.4 L340.0 1051.1 L342.6 1052.8 L345.1 1054.5 L347.7 1056.1 L350.3 1057.7 L352.9 1059.3 L355.5 1060.8 L358.0 1062.4 L360.6 1063.9 L363.2 1065.4 L365.8 1066.8 L368.4 1068.3 L370.9 1069.7 L373.5 1071.1 L376.1 1072.5 L378.7 1073.9 L381.3 1075.2 L383.8 1076.6 L386.4 1077.9 L389.0 1079.2 L391.6 1080.5 L394.2 1081.8 L396.7 1083.0 L399.3 1084.3 L401.9 1085.5 L404.5 1086.7 L407.1 1087.9 L409.6 1089.1 L412.2 1090.3 L414.8 1091.5 L417.4 1092.6 L420.0 1093.8 L422.5 1094.9 L425.1 1096.1 L427.7 1097.2 L430.3 1098.3 L432.9 1099.4 L435.4 1100.5 L438.0 1101.5 L440.6 1102.6 L443.2 1103.7 L445.8 1104.7 L448.3 1105.8 L450.9 1106.8 L453.5 1107.8 L456.1 1108.8 L458.7 1109.8 L461.2 1110.8 L463.8 1111.8 L466.4 1112.8 L469.0 1113.8 L471.6 1114.8 L474.1 1115.7 L476.7 1116.7 L479.3 1117.6 L481.9 1118.6 L484.5 1119.5 L487.0 1120.4 L489.6 1121.4 L492.2 1122.3 L494.8 1123.2 L497.4 1124.1 L499.9 1125.0 L502.5 1125.9 L505.1 1126.8 L507.7 1127.6 L510.3 1128.5 L512.8 1129.4 L515.4 1130.2 L518.0 1131.1 L520.6 1131.9 L523.2 1132.8 L525.7 1133.6 L528.3 1134.5 L530.9 1135.3 L533.5 1136.1 L536.1 1136.9 L538.6 1137.7 L541.2 1138.5 L543.8 1139.3 L546.4 1140.1 L549.0 1140.9 L551.5 1141.7 L554.1 1142.4 L556.7 1143.2 L559.3 1144.0 L561.9 1144.7 L564.4 1145.5 L567.0 1146.2 L569.6 1147.0 L572.2 1147.7 L574.8 1148.4 L577.3 1149.1 L579.9 1149.9 L582.5 1150.6 L585.1 1151.3 L587.7 1152.0 L590.2 1152.7 L592.8 1153.4 L595.4 1154.1 L598.0 1154.7 L600.6 1155.4 L603.1 1156.1 L605.7 1156.8 L608.3 1157.4 L610.9 1158.1 L613.5 1158.7 L616.0 1159.4 L618.6 1160.0 L621.2 1160.6 L623.8 1161.3 L626.4 1161.9 L628.9 1162.5 L631.5 1163.1 L634.1 1163.7 L636.7 1164.4 L639.3 1165.0 L641.8 1165.6 L644.4 1166.1 L647.0 1166.7 L649.6 1167.3 L652.2 1167.9 L654.7 1168.5 L657.3 1169.0 L659.9 1169.6 L662.5 1170.2 L665.1 1170.7 L667.6 1171.3 L670.2 1171.8 L672.8 1172.4 L675.4 1172.9 L678.0 1173.4 L680.5 1174.0 L683.1 1174.5 L685.7 1175.0 L688.3 1175.5 L690.9 1176.1 L693.4 1176.6 L696.0 1177.1 L698.6 1177.6 L701.2 1178.1 L703.8 1178.6 L706.3 1179.1 L708.9 1179.6 L711.5 1180.0 L714.1 1180.5 L716.7 1181.0 L719.2 1181.5 L721.8 1181.9 L724.4 1182.4 L727.0 1182.9 L729.6 1183.3 L732.1 1183.8 L734.7 1184.2 L737.3 1184.7 L739.9 1185.1 L742.5 1185.6 L745.0 1186.0 L747.6 1186.4 L750.2 1186.9 L752.8 1187.3 L755.4 1187.7 L757.9 1188.1 L760.5 1188.6 L763.1 1189.0 L765.7 1189.4 L768.3 1189.8 L770.8 1190.2 L773.4 1190.6 L776.0 1191.0 L778.6 1191.4 L781.2 1191.8 L783.7 1192.2 L786.3 1192.6 L788.9 1193.0 L791.5 1193.4 L794.1 1193.7 L796.6 1194.1 L799.2 1194.5 L801.8 1194.9 L804.4 1195.2 L807.0 1195.6 L809.5 1196.0 L812.1 1196.3 L814.7 1196.7 L817.3 1197.0 L819.9 1197.4 L822.4 1197.7 L825.0 1198.1 L827.6 1198.4 L830.2 1198.8 L832.8 1199.1 L835.3 1199.4 L837.9 1199.8 L840.5 1200.1 L843.1 1200.4 L845.7 1200.8 L848.2 1201.1 L850.8 1201.4 L853.4 1201.7 L856.0 1202.1 L858.6 1202.4 L861.1 1202.7 L863.7 1203.0 L866.3 1203.3 L868.9 1203.6 L871.5 1203.9 L874.0 1204.2 L876.6 1204.5 L879.2 1204.8 L881.8 1205.1 L884.4 1205.4 L886.9 1205.7 L889.5 1206.0 L892.1 1206.3 L894.7 1206.6 L897.3 1206.9 L899.8 1207.1 L902.4 1207.4 L905.0 1207.7" fill="none" stroke="#231f20" stroke-width="5.5" stroke-dasharray="18.5 18.3" stroke-dashoffset="1.5" stroke-linejoin="round"/>
<path d="M154.2 800.7 L156.8 808.0 L159.4 815.0 L162.0 821.8 L164.5 828.4 L167.1 834.8 L169.7 841.1 L172.3 847.3 L174.9 853.4 L177.4 859.4 L180.0 865.4 L182.6 871.3 L185.2 877.1 L187.8 882.9 L190.3 888.7 L192.9 894.4 L195.5 900.1 L198.1 905.8 L200.7 911.4 L203.2 917.0 L205.8 922.6 L208.4 928.2 L211.0 933.7 L213.6 939.1 L216.1 944.5 L218.7 949.9 L221.3 955.2 L223.9 960.5 L226.5 965.6 L229.0 970.8 L231.6 975.8 L234.2 980.8 L236.8 985.7 L239.4 990.6 L241.9 995.3 L244.5 1000.0 L247.1 1004.6 L249.7 1009.0 L252.3 1013.4 L254.8 1017.7 L257.4 1022.0 L260.0 1026.1 L262.6 1030.1 L265.2 1034.1 L267.7 1038.0 L270.3 1041.8 L272.9 1045.5 L275.5 1049.1 L278.1 1052.7 L280.6 1056.2 L283.2 1059.6 L285.8 1063.0 L288.4 1066.3 L291.0 1069.5 L293.5 1072.7 L296.1 1075.9 L298.7 1078.9 L301.3 1082.0 L303.9 1084.9 L306.4 1087.8 L309.0 1090.7 L311.6 1093.5 L314.2 1096.3 L316.8 1099.0 L319.3 1101.7 L321.9 1104.4 L324.5 1107.0 L327.1 1109.5 L329.7 1112.1 L332.2 1114.5 L334.8 1117.0 L337.4 1119.4 L340.0 1121.8 L342.6 1124.2 L345.1 1126.5 L347.7 1128.8 L350.3 1131.1 L352.9 1133.3 L355.5 1135.5 L358.0 1137.7 L360.6 1139.8 L363.2 1141.9 L365.8 1144.0 L368.4 1146.1 L370.9 1148.1 L373.5 1150.2 L376.1 1152.2 L378.7 1154.1 L381.3 1156.1 L383.8 1158.0 L386.4 1159.9 L389.0 1161.8 L391.6 1163.6 L394.2 1165.5 L396.7 1167.3 L399.3 1169.1 L401.9 1170.9 L404.5 1172.6 L407.1 1174.4 L409.6 1176.1 L412.2 1177.8 L414.8 1179.5 L417.4 1181.1 L420.0 1182.8 L422.5 1184.4 L425.1 1186.0 L427.7 1187.6 L430.3 1189.2 L432.9 1190.8 L435.4 1192.3 L438.0 1193.9 L440.6 1195.4 L443.2 1196.9 L445.8 1198.4 L448.3 1199.9 L450.9 1201.4 L453.5 1202.8 L456.1 1204.3 L458.7 1205.7 L461.2 1207.1 L463.8 1208.6 L466.4 1210.0 L469.0 1211.4 L471.6 1212.8 L474.1 1214.1 L476.7 1215.5 L479.3 1216.9 L481.9 1218.2 L484.5 1219.6 L487.0 1220.9 L489.6 1222.2 L492.2 1223.5 L494.8 1224.9 L497.4 1226.2 L499.9 1227.5 L502.5 1228.7 L505.1 1230.0 L507.7 1231.3 L510.3 1232.6 L512.8 1233.9 L515.4 1235.1 L518.0 1236.4 L520.6 1237.6 L523.2 1238.9 L525.7 1240.1 L528.3 1241.3 L530.9 1242.6 L533.5 1243.8 L536.1 1245.0 L538.6 1246.2 L541.2 1247.4 L543.8 1248.6 L546.4 1249.8 L549.0 1251.0 L551.5 1252.2 L554.1 1253.4 L556.7 1254.5 L559.3 1255.7 L561.9 1256.9 L564.4 1258.0 L567.0 1259.2 L569.6 1260.3 L572.2 1261.5 L574.8 1262.6 L577.3 1263.7 L579.9 1264.9 L582.5 1266.0 L585.1 1267.1 L587.7 1268.2 L590.2 1269.3 L592.8 1270.4 L595.4 1271.5 L598.0 1272.6 L600.6 1273.6 L603.1 1274.7 L605.7 1275.8 L608.3 1276.8 L610.9 1277.9 L613.5 1278.9 L616.0 1280.0 L618.6 1281.0 L621.2 1282.0 L623.8 1283.0 L626.4 1284.0 L628.9 1285.0 L631.5 1286.0 L634.1 1287.0 L636.7 1288.0 L639.3 1289.0 L641.8 1290.0 L644.4 1290.9 L647.0 1291.9 L649.6 1292.8 L652.2 1293.8 L654.7 1294.7 L657.3 1295.7 L659.9 1296.6 L662.5 1297.5 L665.1 1298.4 L667.6 1299.3 L670.2 1300.2 L672.8 1301.1 L675.4 1301.9 L678.0 1302.8 L680.5 1303.7 L683.1 1304.5 L685.7 1305.4 L688.3 1306.2 L690.9 1307.1 L693.4 1307.9 L696.0 1308.7 L698.6 1309.5 L701.2 1310.3 L703.8 1311.1 L706.3 1311.9 L708.9 1312.7 L711.5 1313.4 L714.1 1314.2 L716.7 1315.0 L719.2 1315.7 L721.8 1316.5 L724.4 1317.2 L727.0 1317.9 L729.6 1318.6 L732.1 1319.3 L734.7 1320.0 L737.3 1320.7 L739.9 1321.4 L742.5 1322.1 L745.0 1322.8 L747.6 1323.4 L750.2 1324.1 L752.8 1324.7 L755.4 1325.4 L757.9 1326.0 L760.5 1326.6 L763.1 1327.3 L765.7 1327.9 L768.3 1328.5 L770.8 1329.1 L773.4 1329.6 L776.0 1330.2 L778.6 1330.8 L781.2 1331.4 L783.7 1331.9 L786.3 1332.5 L788.9 1333.0 L791.5 1333.6 L794.1 1334.1 L796.6 1334.6 L799.2 1335.1 L801.8 1335.6 L804.4 1336.1 L807.0 1336.6 L809.5 1337.1 L812.1 1337.6 L814.7 1338.1 L817.3 1338.5 L819.9 1339.0 L822.4 1339.4 L825.0 1339.9 L827.6 1340.3 L830.2 1340.8 L832.8 1341.2 L835.3 1341.6 L837.9 1342.0 L840.5 1342.4 L843.1 1342.8 L845.7 1343.2 L848.2 1343.6 L850.8 1344.0 L853.4 1344.4 L856.0 1344.7 L858.6 1345.1 L861.1 1345.5 L863.7 1345.8 L866.3 1346.2 L868.9 1346.5 L871.5 1346.8 L874.0 1347.2 L876.6 1347.5 L879.2 1347.8 L881.8 1348.1 L884.4 1348.4 L886.9 1348.7 L889.5 1349.0 L892.1 1349.3 L894.7 1349.6 L897.3 1349.9 L899.8 1350.1 L902.4 1350.4 L905.0 1350.7" fill="none" stroke="#231f20" stroke-width="5.5" stroke-dasharray="18.5 4.4 9.6 4.4" stroke-dashoffset="2.7" stroke-linejoin="round"/>
<path d="M154.2 800.1 L156.8 807.0 L159.4 813.6 L162.0 820.0 L164.5 826.3 L167.1 832.4 L169.7 838.5 L172.3 844.4 L174.9 850.2 L177.4 856.0 L180.0 861.7 L182.6 867.4 L185.2 873.0 L187.8 878.6 L190.3 884.1 L192.9 889.6 L195.5 895.1 L198.1 900.5 L200.7 906.0 L203.2 911.4 L205.8 916.8 L208.4 922.2 L211.0 927.5 L213.6 932.8 L216.1 938.1 L218.7 943.3 L221.3 948.5 L223.9 953.7 L226.5 958.8 L229.0 963.8 L231.6 968.8 L234.2 973.7 L236.8 978.5 L239.4 983.3 L241.9 988.0 L244.5 992.6 L247.1 997.0 L249.7 1001.4 L252.3 1005.8 L254.8 1010.0 L257.4 1014.1 L260.0 1018.1 L262.6 1022.0 L265.2 1025.8 L267.7 1029.5 L270.3 1033.2 L272.9 1036.7 L275.5 1040.2 L278.1 1043.6 L280.6 1046.9 L283.2 1050.1 L285.8 1053.2 L288.4 1056.3 L291.0 1059.4 L293.5 1062.3 L296.1 1065.2 L298.7 1068.1 L301.3 1070.8 L303.9 1073.6 L306.4 1076.3 L309.0 1078.9 L311.6 1081.5 L314.2 1084.1 L316.8 1086.6 L319.3 1089.1 L321.9 1091.6 L324.5 1094.0 L327.1 1096.4 L329.7 1098.7 L332.2 1101.1 L334.8 1103.4 L337.4 1105.6 L340.0 1107.9 L342.6 1110.1 L345.1 1112.3 L347.7 1114.4 L350.3 1116.6 L352.9 1118.7 L355.5 1120.8 L358.0 1122.9 L360.6 1124.9 L363.2 1127.0 L365.8 1129.0 L368.4 1131.0 L370.9 1132.9 L373.5 1134.9 L376.1 1136.8 L378.7 1138.7 L381.3 1140.6 L383.8 1142.4 L386.4 1144.3 L389.0 1146.1 L391.6 1147.9 L394.2 1149.7 L396.7 1151.5 L399.3 1153.2 L401.9 1154.9 L404.5 1156.6 L407.1 1158.3 L409.6 1160.0 L412.2 1161.6 L414.8 1163.2 L417.4 1164.9 L420.0 1166.4 L422.5 1168.0 L425.1 1169.6 L427.7 1171.1 L430.3 1172.6 L432.9 1174.1 L435.4 1175.6 L438.0 1177.1 L440.6 1178.6 L443.2 1180.0 L445.8 1181.4 L448.3 1182.8 L450.9 1184.2 L453.5 1185.6 L456.1 1187.0 L458.7 1188.4 L461.2 1189.7 L463.8 1191.0 L466.4 1192.4 L469.0 1193.7 L471.6 1195.0 L474.1 1196.3 L476.7 1197.6 L479.3 1198.8 L481.9 1200.1 L484.5 1201.3 L487.0 1202.6 L489.6 1203.8 L492.2 1205.0 L494.8 1206.3 L497.4 1207.5 L499.9 1208.7 L502.5 1209.9 L505.1 1211.1 L507.7 1212.3 L510.3 1213.4 L512.8 1214.6 L515.4 1215.8 L518.0 1216.9 L520.6 1218.1 L523.2 1219.2 L525.7 1220.4 L528.3 1221.5 L530.9 1222.6 L533.5 1223.7 L536.1 1224.9 L538.6 1226.0 L541.2 1227.1 L543.8 1228.2 L546.4 1229.3 L549.0 1230.4 L551.5 1231.4 L554.1 1232.5 L556.7 1233.6 L559.3 1234.7 L561.9 1235.7 L564.4 1236.8 L567.0 1237.8 L569.6 1238.9 L572.2 1239.9 L574.8 1240.9 L577.3 1242.0 L579.9 1243.0 L582.5 1244.0 L585.1 1245.0 L587.7 1246.0 L590.2 1247.0 L592.8 1248.0 L595.4 1249.0 L598.0 1250.0 L600.6 1251.0 L603.1 1251.9 L605.7 1252.9 L608.3 1253.8 L610.9 1254.8 L613.5 1255.7 L616.0 1256.7 L618.6 1257.6 L621.2 1258.5 L623.8 1259.5 L626.4 1260.4 L628.9 1261.3 L631.5 1262.2 L634.1 1263.1 L636.7 1264.0 L639.3 1264.9 L641.8 1265.7 L644.4 1266.6 L647.0 1267.5 L649.6 1268.4 L652.2 1269.2 L654.7 1270.1 L657.3 1270.9 L659.9 1271.7 L662.5 1272.6 L665.1 1273.4 L667.6 1274.2 L670.2 1275.0 L672.8 1275.8 L675.4 1276.6 L678.0 1277.4 L680.5 1278.2 L683.1 1279.0 L685.7 1279.8 L688.3 1280.6 L690.9 1281.3 L693.4 1282.1 L696.0 1282.8 L698.6 1283.6 L701.2 1284.3 L703.8 1285.1 L706.3 1285.8 L708.9 1286.5 L711.5 1287.3 L714.1 1288.0 L716.7 1288.7 L719.2 1289.4 L721.8 1290.1 L724.4 1290.8 L727.0 1291.5 L729.6 1292.2 L732.1 1292.8 L734.7 1293.5 L737.3 1294.2 L739.9 1294.8 L742.5 1295.5 L745.0 1296.1 L747.6 1296.8 L750.2 1297.4 L752.8 1298.1 L755.4 1298.7 L757.9 1299.3 L760.5 1299.9 L763.1 1300.5 L765.7 1301.2 L768.3 1301.8 L770.8 1302.4 L773.4 1302.9 L776.0 1303.5 L778.6 1304.1 L781.2 1304.7 L783.7 1305.3 L786.3 1305.8 L788.9 1306.4 L791.5 1307.0 L794.1 1307.5 L796.6 1308.1 L799.2 1308.6 L801.8 1309.2 L804.4 1309.7 L807.0 1310.2 L809.5 1310.8 L812.1 1311.3 L814.7 1311.8 L817.3 1312.3 L819.9 1312.9 L822.4 1313.4 L825.0 1313.9 L827.6 1314.4 L830.2 1314.9 L832.8 1315.4 L835.3 1315.8 L837.9 1316.3 L840.5 1316.8 L843.1 1317.3 L845.7 1317.8 L848.2 1318.2 L850.8 1318.7 L853.4 1319.1 L856.0 1319.6 L858.6 1320.1 L861.1 1320.5 L863.7 1320.9 L866.3 1321.4 L868.9 1321.8 L871.5 1322.3 L874.0 1322.7 L876.6 1323.1 L879.2 1323.5 L881.8 1324.0 L884.4 1324.4 L886.9 1324.8 L889.5 1325.2 L892.1 1325.6 L894.7 1326.0 L897.3 1326.4 L899.8 1326.8 L902.4 1327.2 L905.0 1327.6" fill="none" stroke="#231f20" stroke-width="5.5" stroke-linejoin="round"/>
<rect x="741.05" y="793.35" width="146.8" height="161.4" fill="#fff" stroke="#231f20" stroke-width="2.1"/>
<path d="M747.8 824.3h73.1" stroke="#231f20" stroke-width="5.5" fill="none"/>
<path d="M747.8 875h55.3" stroke="#231f20" stroke-width="5.5" stroke-dasharray="18.5 18.3" fill="none"/>
<path d="M747.8 924.2h69" stroke="#231f20" stroke-width="5.5" stroke-dasharray="18.5 4.4 9.6 4.4" fill="none"/>
<text class="t i" x="833.6" y="830.5">G<tspan class="s" style="font-style:normal" dx="-2.2" dy="8.6">1</tspan></text>
<text class="t i" x="833.6" y="884.3">G<tspan class="s" style="font-style:normal" dx="-2.2" dy="8.6">2</tspan></text>
<text class="t i" x="833.6" y="937.2">G<tspan class="s" style="font-style:normal" dx="-2.2" dy="8.6">0</tspan></text>
</g>
<g id="p_g">
<path d="M1134.2 773.5 V1376.3 H1909.3" fill="none" stroke="#231f20" stroke-width="2.2" stroke-linejoin="miter"/>
<text class="t" x="1051.4" y="786.3" textLength="70.4" lengthAdjust="spacing">19.5</text>
<text class="t" x="1051.4" y="886.58" textLength="70.4" lengthAdjust="spacing">19.0</text>
<text class="t" x="1051.4" y="986.87" textLength="70.4" lengthAdjust="spacing">18.5</text>
<text class="t" x="1051.4" y="1087.15" textLength="70.4" lengthAdjust="spacing">18.0</text>
<text class="t" x="1051.4" y="1187.43" textLength="70.4" lengthAdjust="spacing">17.5</text>
<text class="t" x="1051.4" y="1287.72" textLength="70.4" lengthAdjust="spacing">17.0</text>
<text class="t" x="1051.4" y="1388" textLength="70.4" lengthAdjust="spacing">16.5</text>
<text class="t" x="1134.2" y="1428.9" text-anchor="middle">0</text>
<text class="t" x="1263.2" y="1428.9" text-anchor="middle">50</text>
<text class="t" x="1362.5" y="1428.9" textLength="59.4" lengthAdjust="spacing">100</text>
<text class="t" x="1491.5" y="1428.9" textLength="59.4" lengthAdjust="spacing">150</text>
<text class="t" x="1650.2" y="1428.9" text-anchor="middle">200</text>
<text class="t" x="1779.2" y="1428.9" text-anchor="middle">250</text>
<text class="t" x="1908.2" y="1428.9" text-anchor="middle">300</text>
<path d="M1134.2 774.6h15M1134.2 874.88h15M1134.2 975.17h15M1134.2 1075.45h15M1134.2 1175.73h15M1134.2 1276.02h15M1134.2 1376.3h15M1263.2 1376.3v-15M1392.2 1376.3v-15M1521.2 1376.3v-15M1650.2 1376.3v-15M1779.2 1376.3v-15M1908.2 1376.3v-15" fill="none" stroke="#231f20" stroke-width="2.2"/>
<text class="tt" x="1522.8" y="785.5" text-anchor="middle">(г)</text>
<text class="t" x="1471.4" y="1467" textLength="98.5" lengthAdjust="spacing"><tspan class="i">R</tspan>, км</text>
<text style="font-size:40.3px" transform="translate(1038 1151.2) rotate(-90)">10lg (<tspan class="i">G</tspan>)</text>
<path d="M1158.2 825.3 L1160.0 828.3 L1162.6 832.6 L1165.2 836.9 L1167.7 841.2 L1170.3 845.4 L1172.9 849.7 L1175.5 854.0 L1178.1 858.2 L1180.6 862.5 L1183.2 866.8 L1185.8 871.0 L1188.4 875.3 L1191.0 879.6 L1193.5 883.8 L1196.1 888.0 L1198.7 892.1 L1201.3 896.2 L1203.9 900.2 L1206.4 904.1 L1209.0 908.0 L1211.6 911.8 L1214.2 915.6 L1216.8 919.3 L1219.3 922.9 L1221.9 926.5 L1224.5 930.0 L1227.1 933.4 L1229.7 936.8 L1232.2 940.2 L1234.8 943.5 L1237.4 946.8 L1240.0 950.0 L1242.6 953.1 L1245.1 956.3 L1247.7 959.3 L1250.3 962.4 L1252.9 965.3 L1255.5 968.3 L1258.0 971.2 L1260.6 974.0 L1263.2 976.8 L1265.8 979.5 L1268.4 982.2 L1270.9 984.8 L1273.5 987.4 L1276.1 990.0 L1278.7 992.5 L1281.3 994.9 L1283.8 997.3 L1286.4 999.7 L1289.0 1002.0 L1291.6 1004.2 L1294.2 1006.4 L1296.7 1008.6 L1299.3 1010.8 L1301.9 1012.9 L1304.5 1014.9 L1307.1 1017.0 L1309.6 1018.9 L1312.2 1020.9 L1314.8 1022.8 L1317.4 1024.7 L1320.0 1026.6 L1322.5 1028.4 L1325.1 1030.2 L1327.7 1032.0 L1330.3 1033.7 L1332.9 1035.4 L1335.4 1037.1 L1338.0 1038.8 L1340.6 1040.4 L1343.2 1042.0 L1345.8 1043.6 L1348.3 1045.2 L1350.9 1046.7 L1353.5 1048.2 L1356.1 1049.7 L1358.7 1051.2 L1361.2 1052.6 L1363.8 1054.1 L1366.4 1055.5 L1369.0 1056.9 L1371.6 1058.2 L1374.1 1059.6 L1376.7 1060.9 L1379.3 1062.3 L1381.9 1063.6 L1384.5 1064.9 L1387.0 1066.2 L1389.6 1067.4 L1392.2 1068.7 L1394.8 1069.9 L1397.4 1071.1 L1399.9 1072.4 L1402.5 1073.6 L1405.1 1074.7 L1407.7 1075.9 L1410.3 1077.1 L1412.8 1078.2 L1415.4 1079.4 L1418.0 1080.5 L1420.6 1081.6 L1423.2 1082.8 L1425.7 1083.9 L1428.3 1085.0 L1430.9 1086.0 L1433.5 1087.1 L1436.1 1088.2 L1438.6 1089.2 L1441.2 1090.3 L1443.8 1091.3 L1446.4 1092.3 L1449.0 1093.3 L1451.5 1094.4 L1454.1 1095.4 L1456.7 1096.4 L1459.3 1097.3 L1461.9 1098.3 L1464.4 1099.3 L1467.0 1100.3 L1469.6 1101.2 L1472.2 1102.2 L1474.8 1103.1 L1477.3 1104.0 L1479.9 1105.0 L1482.5 1105.9 L1485.1 1106.8 L1487.7 1107.7 L1490.2 1108.6 L1492.8 1109.5 L1495.4 1110.4 L1498.0 1111.2 L1500.6 1112.1 L1503.1 1113.0 L1505.7 1113.9 L1508.3 1114.7 L1510.9 1115.6 L1513.5 1116.4 L1516.0 1117.2 L1518.6 1118.1 L1521.2 1118.9 L1523.8 1119.7 L1526.4 1120.5 L1528.9 1121.4 L1531.5 1122.2 L1534.1 1123.0 L1536.7 1123.8 L1539.3 1124.6 L1541.8 1125.3 L1544.4 1126.1 L1547.0 1126.9 L1549.6 1127.7 L1552.2 1128.4 L1554.7 1129.2 L1557.3 1129.9 L1559.9 1130.7 L1562.5 1131.4 L1565.1 1132.2 L1567.6 1132.9 L1570.2 1133.7 L1572.8 1134.4 L1575.4 1135.1 L1578.0 1135.8 L1580.5 1136.5 L1583.1 1137.2 L1585.7 1137.9 L1588.3 1138.6 L1590.9 1139.3 L1593.4 1140.0 L1596.0 1140.7 L1598.6 1141.4 L1601.2 1142.1 L1603.8 1142.7 L1606.3 1143.4 L1608.9 1144.1 L1611.5 1144.7 L1614.1 1145.4 L1616.7 1146.0 L1619.2 1146.7 L1621.8 1147.3 L1624.4 1147.9 L1627.0 1148.6 L1629.6 1149.2 L1632.1 1149.8 L1634.7 1150.4 L1637.3 1151.1 L1639.9 1151.7 L1642.5 1152.3 L1645.0 1152.9 L1647.6 1153.5 L1650.2 1154.0 L1652.8 1154.6 L1655.4 1155.2 L1657.9 1155.8 L1660.5 1156.4 L1663.1 1156.9 L1665.7 1157.5 L1668.3 1158.1 L1670.8 1158.6 L1673.4 1159.2 L1676.0 1159.7 L1678.6 1160.3 L1681.2 1160.8 L1683.7 1161.3 L1686.3 1161.9 L1688.9 1162.4 L1691.5 1162.9 L1694.1 1163.4 L1696.6 1164.0 L1699.2 1164.5 L1701.8 1165.0 L1704.4 1165.5 L1707.0 1166.0 L1709.5 1166.5 L1712.1 1167.0 L1714.7 1167.4 L1717.3 1167.9 L1719.9 1168.4 L1722.4 1168.9 L1725.0 1169.4 L1727.6 1169.8 L1730.2 1170.3 L1732.8 1170.8 L1735.3 1171.2 L1737.9 1171.7 L1740.5 1172.1 L1743.1 1172.6 L1745.7 1173.0 L1748.2 1173.4 L1750.8 1173.9 L1753.4 1174.3 L1756.0 1174.7 L1758.6 1175.2 L1761.1 1175.6 L1763.7 1176.0 L1766.3 1176.4 L1768.9 1176.8 L1771.5 1177.2 L1774.0 1177.7 L1776.6 1178.1 L1779.2 1178.5 L1781.8 1178.9 L1784.4 1179.2 L1786.9 1179.6 L1789.5 1180.0 L1792.1 1180.4 L1794.7 1180.8 L1797.3 1181.2 L1799.8 1181.5 L1802.4 1181.9 L1805.0 1182.3 L1807.6 1182.6 L1810.2 1183.0 L1812.7 1183.4 L1815.3 1183.7 L1817.9 1184.1 L1820.5 1184.4 L1823.1 1184.8 L1825.6 1185.1 L1828.2 1185.5 L1830.8 1185.8 L1833.4 1186.1 L1836.0 1186.5 L1838.5 1186.8 L1841.1 1187.1 L1843.7 1187.5 L1846.3 1187.8 L1848.9 1188.1 L1851.4 1188.4 L1854.0 1188.7 L1856.6 1189.0 L1859.2 1189.4 L1861.8 1189.7 L1864.3 1190.0 L1866.9 1190.3 L1869.5 1190.6 L1872.1 1190.9 L1874.7 1191.2 L1877.2 1191.5 L1879.8 1191.8 L1882.4 1192.0 L1885.0 1192.3 L1887.6 1192.6 L1890.1 1192.9 L1892.7 1193.2 L1895.3 1193.5 L1897.9 1193.7 L1900.5 1194.0 L1903.0 1194.3 L1905.6 1194.5 L1908.2 1194.8" fill="none" stroke="#231f20" stroke-width="5.5" stroke-dasharray="18.5 18.3" stroke-dashoffset="0.8" stroke-linejoin="round"/>
<path d="M1158.7 937.9 L1160.0 937.5 L1162.6 937.0 L1165.2 937.1 L1167.7 937.7 L1170.3 938.7 L1172.9 940.0 L1175.5 941.5 L1178.1 943.3 L1180.6 945.2 L1183.2 947.3 L1185.8 949.5 L1188.4 951.8 L1191.0 954.1 L1193.5 956.6 L1196.1 959.1 L1198.7 961.6 L1201.3 964.2 L1203.9 966.9 L1206.4 969.6 L1209.0 972.3 L1211.6 975.1 L1214.2 978.0 L1216.8 980.9 L1219.3 983.9 L1221.9 986.9 L1224.5 989.9 L1227.1 993.0 L1229.7 996.1 L1232.2 999.3 L1234.8 1002.5 L1237.4 1005.7 L1240.0 1008.9 L1242.6 1012.1 L1245.1 1015.4 L1247.7 1018.6 L1250.3 1021.8 L1252.9 1025.0 L1255.5 1028.1 L1258.0 1031.2 L1260.6 1034.3 L1263.2 1037.4 L1265.8 1040.4 L1268.4 1043.4 L1270.9 1046.3 L1273.5 1049.2 L1276.1 1052.1 L1278.7 1054.9 L1281.3 1057.6 L1283.8 1060.3 L1286.4 1063.0 L1289.0 1065.7 L1291.6 1068.3 L1294.2 1070.8 L1296.7 1073.4 L1299.3 1075.9 L1301.9 1078.4 L1304.5 1080.8 L1307.1 1083.2 L1309.6 1085.6 L1312.2 1088.0 L1314.8 1090.3 L1317.4 1092.6 L1320.0 1094.8 L1322.5 1097.1 L1325.1 1099.3 L1327.7 1101.5 L1330.3 1103.7 L1332.9 1105.8 L1335.4 1107.9 L1338.0 1110.0 L1340.6 1112.1 L1343.2 1114.2 L1345.8 1116.2 L1348.3 1118.2 L1350.9 1120.2 L1353.5 1122.2 L1356.1 1124.2 L1358.7 1126.1 L1361.2 1128.0 L1363.8 1129.9 L1366.4 1131.8 L1369.0 1133.7 L1371.6 1135.5 L1374.1 1137.3 L1376.7 1139.2 L1379.3 1141.0 L1381.9 1142.7 L1384.5 1144.5 L1387.0 1146.3 L1389.6 1148.0 L1392.2 1149.7 L1394.8 1151.4 L1397.4 1153.1 L1399.9 1154.8 L1402.5 1156.4 L1405.1 1158.1 L1407.7 1159.7 L1410.3 1161.3 L1412.8 1162.9 L1415.4 1164.5 L1418.0 1166.0 L1420.6 1167.6 L1423.2 1169.1 L1425.7 1170.7 L1428.3 1172.2 L1430.9 1173.7 L1433.5 1175.2 L1436.1 1176.7 L1438.6 1178.1 L1441.2 1179.6 L1443.8 1181.0 L1446.4 1182.4 L1449.0 1183.9 L1451.5 1185.3 L1454.1 1186.7 L1456.7 1188.0 L1459.3 1189.4 L1461.9 1190.8 L1464.4 1192.1 L1467.0 1193.5 L1469.6 1194.8 L1472.2 1196.2 L1474.8 1197.5 L1477.3 1198.8 L1479.9 1200.1 L1482.5 1201.4 L1485.1 1202.7 L1487.7 1204.0 L1490.2 1205.3 L1492.8 1206.5 L1495.4 1207.8 L1498.0 1209.1 L1500.6 1210.3 L1503.1 1211.6 L1505.7 1212.8 L1508.3 1214.0 L1510.9 1215.3 L1513.5 1216.5 L1516.0 1217.7 L1518.6 1218.9 L1521.2 1220.1 L1523.8 1221.3 L1526.4 1222.5 L1528.9 1223.7 L1531.5 1224.9 L1534.1 1226.1 L1536.7 1227.3 L1539.3 1228.5 L1541.8 1229.6 L1544.4 1230.8 L1547.0 1232.0 L1549.6 1233.1 L1552.2 1234.3 L1554.7 1235.4 L1557.3 1236.6 L1559.9 1237.7 L1562.5 1238.8 L1565.1 1240.0 L1567.6 1241.1 L1570.2 1242.2 L1572.8 1243.3 L1575.4 1244.4 L1578.0 1245.5 L1580.5 1246.6 L1583.1 1247.7 L1585.7 1248.8 L1588.3 1249.8 L1590.9 1250.9 L1593.4 1252.0 L1596.0 1253.0 L1598.6 1254.1 L1601.2 1255.1 L1603.8 1256.2 L1606.3 1257.2 L1608.9 1258.3 L1611.5 1259.3 L1614.1 1260.3 L1616.7 1261.3 L1619.2 1262.3 L1621.8 1263.3 L1624.4 1264.3 L1627.0 1265.3 L1629.6 1266.3 L1632.1 1267.3 L1634.7 1268.2 L1637.3 1269.2 L1639.9 1270.1 L1642.5 1271.1 L1645.0 1272.0 L1647.6 1273.0 L1650.2 1273.9 L1652.8 1274.8 L1655.4 1275.7 L1657.9 1276.6 L1660.5 1277.5 L1663.1 1278.4 L1665.7 1279.3 L1668.3 1280.2 L1670.8 1281.0 L1673.4 1281.9 L1676.0 1282.7 L1678.6 1283.6 L1681.2 1284.4 L1683.7 1285.3 L1686.3 1286.1 L1688.9 1286.9 L1691.5 1287.7 L1694.1 1288.5 L1696.6 1289.3 L1699.2 1290.1 L1701.8 1290.9 L1704.4 1291.6 L1707.0 1292.4 L1709.5 1293.2 L1712.1 1293.9 L1714.7 1294.7 L1717.3 1295.4 L1719.9 1296.1 L1722.4 1296.8 L1725.0 1297.6 L1727.6 1298.3 L1730.2 1299.0 L1732.8 1299.6 L1735.3 1300.3 L1737.9 1301.0 L1740.5 1301.7 L1743.1 1302.3 L1745.7 1303.0 L1748.2 1303.6 L1750.8 1304.3 L1753.4 1304.9 L1756.0 1305.5 L1758.6 1306.1 L1761.1 1306.7 L1763.7 1307.3 L1766.3 1307.9 L1768.9 1308.5 L1771.5 1309.1 L1774.0 1309.7 L1776.6 1310.2 L1779.2 1310.8 L1781.8 1311.4 L1784.4 1311.9 L1786.9 1312.4 L1789.5 1313.0 L1792.1 1313.5 L1794.7 1314.0 L1797.3 1314.5 L1799.8 1315.0 L1802.4 1315.5 L1805.0 1316.0 L1807.6 1316.5 L1810.2 1317.0 L1812.7 1317.4 L1815.3 1317.9 L1817.9 1318.4 L1820.5 1318.8 L1823.1 1319.2 L1825.6 1319.7 L1828.2 1320.1 L1830.8 1320.5 L1833.4 1321.0 L1836.0 1321.4 L1838.5 1321.8 L1841.1 1322.2 L1843.7 1322.6 L1846.3 1323.0 L1848.9 1323.3 L1851.4 1323.7 L1854.0 1324.1 L1856.6 1324.5 L1859.2 1324.8 L1861.8 1325.2 L1864.3 1325.5 L1866.9 1325.9 L1869.5 1326.2 L1872.1 1326.5 L1874.7 1326.9 L1877.2 1327.2 L1879.8 1327.5 L1882.4 1327.8 L1885.0 1328.1 L1887.6 1328.4 L1890.1 1328.7 L1892.7 1329.0 L1895.3 1329.3 L1897.9 1329.6 L1900.5 1329.8 L1903.0 1330.1 L1905.6 1330.4 L1908.2 1330.6" fill="none" stroke="#231f20" stroke-width="5.5" stroke-dasharray="18.5 4.4 9.6 4.4" stroke-dashoffset="2.0" stroke-linejoin="round"/>
<path d="M1158.5 836.6 L1160.0 839.8 L1162.6 845.0 L1165.2 850.0 L1167.7 854.9 L1170.3 859.8 L1172.9 864.6 L1175.5 869.3 L1178.1 874.0 L1180.6 878.7 L1183.2 883.4 L1185.8 888.1 L1188.4 892.8 L1191.0 897.5 L1193.5 902.1 L1196.1 906.8 L1198.7 911.5 L1201.3 916.1 L1203.9 920.8 L1206.4 925.4 L1209.0 930.0 L1211.6 934.6 L1214.2 939.2 L1216.8 943.7 L1219.3 948.2 L1221.9 952.7 L1224.5 957.1 L1227.1 961.4 L1229.7 965.8 L1232.2 970.0 L1234.8 974.2 L1237.4 978.4 L1240.0 982.5 L1242.6 986.5 L1245.1 990.5 L1247.7 994.4 L1250.3 998.3 L1252.9 1002.1 L1255.5 1005.9 L1258.0 1009.6 L1260.6 1013.2 L1263.2 1016.8 L1265.8 1020.4 L1268.4 1023.8 L1270.9 1027.2 L1273.5 1030.6 L1276.1 1033.9 L1278.7 1037.1 L1281.3 1040.3 L1283.8 1043.4 L1286.4 1046.4 L1289.0 1049.4 L1291.6 1052.3 L1294.2 1055.2 L1296.7 1057.9 L1299.3 1060.7 L1301.9 1063.4 L1304.5 1066.0 L1307.1 1068.6 L1309.6 1071.1 L1312.2 1073.5 L1314.8 1076.0 L1317.4 1078.3 L1320.0 1080.6 L1322.5 1082.9 L1325.1 1085.2 L1327.7 1087.4 L1330.3 1089.5 L1332.9 1091.6 L1335.4 1093.7 L1338.0 1095.8 L1340.6 1097.8 L1343.2 1099.8 L1345.8 1101.8 L1348.3 1103.7 L1350.9 1105.6 L1353.5 1107.5 L1356.1 1109.4 L1358.7 1111.2 L1361.2 1113.1 L1363.8 1114.9 L1366.4 1116.7 L1369.0 1118.4 L1371.6 1120.2 L1374.1 1121.9 L1376.7 1123.6 L1379.3 1125.3 L1381.9 1127.0 L1384.5 1128.7 L1387.0 1130.3 L1389.6 1132.0 L1392.2 1133.6 L1394.8 1135.2 L1397.4 1136.8 L1399.9 1138.4 L1402.5 1140.0 L1405.1 1141.5 L1407.7 1143.0 L1410.3 1144.6 L1412.8 1146.1 L1415.4 1147.6 L1418.0 1149.1 L1420.6 1150.5 L1423.2 1152.0 L1425.7 1153.4 L1428.3 1154.9 L1430.9 1156.3 L1433.5 1157.7 L1436.1 1159.1 L1438.6 1160.4 L1441.2 1161.8 L1443.8 1163.2 L1446.4 1164.5 L1449.0 1165.8 L1451.5 1167.2 L1454.1 1168.5 L1456.7 1169.8 L1459.3 1171.1 L1461.9 1172.3 L1464.4 1173.6 L1467.0 1174.9 L1469.6 1176.1 L1472.2 1177.4 L1474.8 1178.6 L1477.3 1179.8 L1479.9 1181.0 L1482.5 1182.3 L1485.1 1183.5 L1487.7 1184.7 L1490.2 1185.9 L1492.8 1187.0 L1495.4 1188.2 L1498.0 1189.4 L1500.6 1190.6 L1503.1 1191.7 L1505.7 1192.9 L1508.3 1194.0 L1510.9 1195.2 L1513.5 1196.3 L1516.0 1197.5 L1518.6 1198.6 L1521.2 1199.7 L1523.8 1200.9 L1526.4 1202.0 L1528.9 1203.1 L1531.5 1204.2 L1534.1 1205.3 L1536.7 1206.4 L1539.3 1207.5 L1541.8 1208.6 L1544.4 1209.7 L1547.0 1210.8 L1549.6 1211.9 L1552.2 1212.9 L1554.7 1214.0 L1557.3 1215.1 L1559.9 1216.1 L1562.5 1217.2 L1565.1 1218.3 L1567.6 1219.3 L1570.2 1220.4 L1572.8 1221.4 L1575.4 1222.4 L1578.0 1223.5 L1580.5 1224.5 L1583.1 1225.5 L1585.7 1226.5 L1588.3 1227.5 L1590.9 1228.6 L1593.4 1229.6 L1596.0 1230.6 L1598.6 1231.5 L1601.2 1232.5 L1603.8 1233.5 L1606.3 1234.5 L1608.9 1235.5 L1611.5 1236.4 L1614.1 1237.4 L1616.7 1238.3 L1619.2 1239.3 L1621.8 1240.2 L1624.4 1241.2 L1627.0 1242.1 L1629.6 1243.0 L1632.1 1243.9 L1634.7 1244.9 L1637.3 1245.8 L1639.9 1246.7 L1642.5 1247.6 L1645.0 1248.5 L1647.6 1249.3 L1650.2 1250.2 L1652.8 1251.1 L1655.4 1252.0 L1657.9 1252.8 L1660.5 1253.7 L1663.1 1254.5 L1665.7 1255.4 L1668.3 1256.2 L1670.8 1257.0 L1673.4 1257.8 L1676.0 1258.7 L1678.6 1259.5 L1681.2 1260.3 L1683.7 1261.1 L1686.3 1261.9 L1688.9 1262.7 L1691.5 1263.4 L1694.1 1264.2 L1696.6 1265.0 L1699.2 1265.7 L1701.8 1266.5 L1704.4 1267.3 L1707.0 1268.0 L1709.5 1268.7 L1712.1 1269.5 L1714.7 1270.2 L1717.3 1270.9 L1719.9 1271.6 L1722.4 1272.3 L1725.0 1273.0 L1727.6 1273.7 L1730.2 1274.4 L1732.8 1275.1 L1735.3 1275.8 L1737.9 1276.5 L1740.5 1277.1 L1743.1 1277.8 L1745.7 1278.4 L1748.2 1279.1 L1750.8 1279.7 L1753.4 1280.4 L1756.0 1281.0 L1758.6 1281.6 L1761.1 1282.2 L1763.7 1282.9 L1766.3 1283.5 L1768.9 1284.1 L1771.5 1284.7 L1774.0 1285.3 L1776.6 1285.9 L1779.2 1286.4 L1781.8 1287.0 L1784.4 1287.6 L1786.9 1288.2 L1789.5 1288.7 L1792.1 1289.3 L1794.7 1289.8 L1797.3 1290.4 L1799.8 1290.9 L1802.4 1291.4 L1805.0 1292.0 L1807.6 1292.5 L1810.2 1293.0 L1812.7 1293.5 L1815.3 1294.0 L1817.9 1294.6 L1820.5 1295.1 L1823.1 1295.5 L1825.6 1296.0 L1828.2 1296.5 L1830.8 1297.0 L1833.4 1297.5 L1836.0 1298.0 L1838.5 1298.4 L1841.1 1298.9 L1843.7 1299.4 L1846.3 1299.8 L1848.9 1300.3 L1851.4 1300.7 L1854.0 1301.1 L1856.6 1301.6 L1859.2 1302.0 L1861.8 1302.4 L1864.3 1302.9 L1866.9 1303.3 L1869.5 1303.7 L1872.1 1304.1 L1874.7 1304.5 L1877.2 1304.9 L1879.8 1305.3 L1882.4 1305.7 L1885.0 1306.1 L1887.6 1306.5 L1890.1 1306.9 L1892.7 1307.3 L1895.3 1307.7 L1897.9 1308.0 L1900.5 1308.4 L1903.0 1308.8 L1905.6 1309.1 L1908.2 1309.5" fill="none" stroke="#231f20" stroke-width="5.5" stroke-linejoin="round"/>
<rect x="1744.25" y="793.35" width="146.8" height="161.4" fill="#fff" stroke="#231f20" stroke-width="2.1"/>
<path d="M1751 824.3h73.1" stroke="#231f20" stroke-width="5.5" fill="none"/>
<path d="M1751 875h55.3" stroke="#231f20" stroke-width="5.5" stroke-dasharray="18.5 18.3" fill="none"/>
<path d="M1751 924.2h69" stroke="#231f20" stroke-width="5.5" stroke-dasharray="18.5 4.4 9.6 4.4" fill="none"/>
<text class="t i" x="1836.8" y="830.5">G<tspan class="s" style="font-style:normal" dx="-2.2" dy="8.6">1</tspan></text>
<text class="t i" x="1836.8" y="884.3">G<tspan class="s" style="font-style:normal" dx="-2.2" dy="8.6">2</tspan></text>
<text class="t i" x="1836.8" y="937.2">G<tspan class="s" style="font-style:normal" dx="-2.2" dy="8.6">0</tspan></text>
</g>
<g id="p_d">
<path d="M131 1529 V2131.8 H906.1" fill="none" stroke="#231f20" stroke-width="2.2" stroke-linejoin="miter"/>
<text class="t" x="48.2" y="1541.8" textLength="70.4" lengthAdjust="spacing">16.8</text>
<text class="t" x="48.2" y="1617.01" textLength="70.4" lengthAdjust="spacing">16.6</text>
<text class="t" x="48.2" y="1692.22" textLength="70.4" lengthAdjust="spacing">16.4</text>
<text class="t" x="48.2" y="1767.44" textLength="70.4" lengthAdjust="spacing">16.2</text>
<text class="t" x="48.2" y="1842.65" textLength="70.4" lengthAdjust="spacing">16.0</text>
<text class="t" x="48.2" y="1917.86" textLength="70.4" lengthAdjust="spacing">15.8</text>
<text class="t" x="48.2" y="1993.08" textLength="70.4" lengthAdjust="spacing">15.6</text>
<text class="t" x="48.2" y="2068.29" textLength="70.4" lengthAdjust="spacing">15.4</text>
<text class="t" x="48.2" y="2143.5" textLength="70.4" lengthAdjust="spacing">15.2</text>
<text class="t" x="131" y="2184.4" text-anchor="middle">0</text>
<text class="t" x="260" y="2184.4" text-anchor="middle">50</text>
<text class="t" x="359.3" y="2184.4" textLength="59.4" lengthAdjust="spacing">100</text>
<text class="t" x="488.3" y="2184.4" textLength="59.4" lengthAdjust="spacing">150</text>
<text class="t" x="647" y="2184.4" text-anchor="middle">200</text>
<text class="t" x="776" y="2184.4" text-anchor="middle">250</text>
<text class="t" x="905" y="2184.4" text-anchor="middle">300</text>
<path d="M131 1530.1h15M131 1605.31h15M131 1680.52h15M131 1755.74h15M131 1830.95h15M131 1906.16h15M131 1981.38h15M131 2056.59h15M131 2131.8h15M260 2131.8v-15M389 2131.8v-15M518 2131.8v-15M647 2131.8v-15M776 2131.8v-15M905 2131.8v-15" fill="none" stroke="#231f20" stroke-width="2.2"/>
<text class="tt" x="519.6" y="1541" text-anchor="middle">(д)</text>
<text class="t" x="468.2" y="2222.5" textLength="98.5" lengthAdjust="spacing"><tspan class="i">R</tspan>, км</text>
<text style="font-size:40.3px" transform="translate(34.8 1906.7) rotate(-90)">10lg (<tspan class="i">G</tspan>)</text>
<path d="M154.5 1537.6 L156.8 1542.5 L159.4 1547.8 L162.0 1553.2 L164.5 1558.6 L167.1 1564.0 L169.7 1569.3 L172.3 1574.7 L174.9 1580.1 L177.4 1585.5 L180.0 1590.8 L182.6 1596.2 L185.2 1601.6 L187.8 1606.9 L190.3 1612.2 L192.9 1617.4 L195.5 1622.6 L198.1 1627.8 L200.7 1632.9 L203.2 1637.8 L205.8 1642.8 L208.4 1647.6 L211.0 1652.4 L213.6 1657.1 L216.1 1661.7 L218.7 1666.2 L221.3 1670.7 L223.9 1675.1 L226.5 1679.5 L229.0 1683.7 L231.6 1688.0 L234.2 1692.1 L236.8 1696.3 L239.4 1700.3 L241.9 1704.3 L244.5 1708.3 L247.1 1712.2 L249.7 1716.1 L252.3 1719.9 L254.8 1723.7 L257.4 1727.4 L260.0 1731.0 L262.6 1734.6 L265.2 1738.1 L267.7 1741.6 L270.3 1745.0 L272.9 1748.4 L275.5 1751.7 L278.1 1754.9 L280.6 1758.1 L283.2 1761.2 L285.8 1764.3 L288.4 1767.3 L291.0 1770.2 L293.5 1773.1 L296.1 1775.9 L298.7 1778.7 L301.3 1781.5 L303.9 1784.2 L306.4 1786.8 L309.0 1789.4 L311.6 1792.0 L314.2 1794.5 L316.8 1797.0 L319.3 1799.4 L321.9 1801.8 L324.5 1804.1 L327.1 1806.5 L329.7 1808.8 L332.2 1811.0 L334.8 1813.2 L337.4 1815.4 L340.0 1817.6 L342.6 1819.7 L345.1 1821.8 L347.7 1823.9 L350.3 1825.9 L352.9 1827.9 L355.5 1829.9 L358.0 1831.9 L360.6 1833.8 L363.2 1835.8 L365.8 1837.7 L368.4 1839.5 L370.9 1841.4 L373.5 1843.2 L376.1 1845.0 L378.7 1846.8 L381.3 1848.6 L383.8 1850.3 L386.4 1852.1 L389.0 1853.8 L391.6 1855.5 L394.2 1857.2 L396.7 1858.8 L399.3 1860.5 L401.9 1862.1 L404.5 1863.7 L407.1 1865.3 L409.6 1866.9 L412.2 1868.5 L414.8 1870.0 L417.4 1871.5 L420.0 1873.1 L422.5 1874.6 L425.1 1876.1 L427.7 1877.6 L430.3 1879.0 L432.9 1880.5 L435.4 1881.9 L438.0 1883.4 L440.6 1884.8 L443.2 1886.2 L445.8 1887.6 L448.3 1889.0 L450.9 1890.4 L453.5 1891.8 L456.1 1893.1 L458.7 1894.5 L461.2 1895.8 L463.8 1897.1 L466.4 1898.5 L469.0 1899.8 L471.6 1901.1 L474.1 1902.4 L476.7 1903.7 L479.3 1904.9 L481.9 1906.2 L484.5 1907.5 L487.0 1908.7 L489.6 1909.9 L492.2 1911.2 L494.8 1912.4 L497.4 1913.6 L499.9 1914.8 L502.5 1916.0 L505.1 1917.2 L507.7 1918.4 L510.3 1919.6 L512.8 1920.8 L515.4 1921.9 L518.0 1923.1 L520.6 1924.3 L523.2 1925.4 L525.7 1926.5 L528.3 1927.7 L530.9 1928.8 L533.5 1929.9 L536.1 1931.0 L538.6 1932.1 L541.2 1933.2 L543.8 1934.3 L546.4 1935.4 L549.0 1936.5 L551.5 1937.5 L554.1 1938.6 L556.7 1939.6 L559.3 1940.7 L561.9 1941.7 L564.4 1942.8 L567.0 1943.8 L569.6 1944.8 L572.2 1945.8 L574.8 1946.8 L577.3 1947.8 L579.9 1948.8 L582.5 1949.8 L585.1 1950.8 L587.7 1951.8 L590.2 1952.8 L592.8 1953.7 L595.4 1954.7 L598.0 1955.6 L600.6 1956.6 L603.1 1957.5 L605.7 1958.4 L608.3 1959.4 L610.9 1960.3 L613.5 1961.2 L616.0 1962.1 L618.6 1963.0 L621.2 1963.9 L623.8 1964.8 L626.4 1965.7 L628.9 1966.6 L631.5 1967.4 L634.1 1968.3 L636.7 1969.2 L639.3 1970.0 L641.8 1970.9 L644.4 1971.7 L647.0 1972.6 L649.6 1973.4 L652.2 1974.2 L654.7 1975.0 L657.3 1975.9 L659.9 1976.7 L662.5 1977.5 L665.1 1978.3 L667.6 1979.1 L670.2 1979.9 L672.8 1980.6 L675.4 1981.4 L678.0 1982.2 L680.5 1983.0 L683.1 1983.7 L685.7 1984.5 L688.3 1985.2 L690.9 1986.0 L693.4 1986.7 L696.0 1987.5 L698.6 1988.2 L701.2 1988.9 L703.8 1989.6 L706.3 1990.4 L708.9 1991.1 L711.5 1991.8 L714.1 1992.5 L716.7 1993.2 L719.2 1993.9 L721.8 1994.6 L724.4 1995.2 L727.0 1995.9 L729.6 1996.6 L732.1 1997.3 L734.7 1997.9 L737.3 1998.6 L739.9 1999.2 L742.5 1999.9 L745.0 2000.5 L747.6 2001.2 L750.2 2001.8 L752.8 2002.5 L755.4 2003.1 L757.9 2003.7 L760.5 2004.3 L763.1 2005.0 L765.7 2005.6 L768.3 2006.2 L770.8 2006.8 L773.4 2007.4 L776.0 2008.0 L778.6 2008.6 L781.2 2009.2 L783.7 2009.7 L786.3 2010.3 L788.9 2010.9 L791.5 2011.5 L794.1 2012.0 L796.6 2012.6 L799.2 2013.2 L801.8 2013.7 L804.4 2014.3 L807.0 2014.8 L809.5 2015.4 L812.1 2015.9 L814.7 2016.5 L817.3 2017.0 L819.9 2017.5 L822.4 2018.0 L825.0 2018.6 L827.6 2019.1 L830.2 2019.6 L832.8 2020.1 L835.3 2020.6 L837.9 2021.1 L840.5 2021.6 L843.1 2022.1 L845.7 2022.6 L848.2 2023.1 L850.8 2023.6 L853.4 2024.1 L856.0 2024.6 L858.6 2025.1 L861.1 2025.6 L863.7 2026.0 L866.3 2026.5 L868.9 2027.0 L871.5 2027.5 L874.0 2027.9 L876.6 2028.4 L879.2 2028.8 L881.8 2029.3 L884.4 2029.7 L886.9 2030.2 L889.5 2030.6 L892.1 2031.1 L894.7 2031.5 L897.3 2032.0 L899.8 2032.4 L902.4 2032.8 L905.0 2033.3" fill="none" stroke="#231f20" stroke-width="5.5" stroke-dasharray="18.5 18.3" stroke-dashoffset="0.8" stroke-linejoin="round"/>
<path d="M154.5 1539.5 L156.8 1545.9 L159.4 1552.7 L162.0 1559.2 L164.5 1565.5 L167.1 1571.7 L169.7 1577.7 L172.3 1583.7 L174.9 1589.6 L177.4 1595.4 L180.0 1601.1 L182.6 1606.8 L185.2 1612.5 L187.8 1618.1 L190.3 1623.7 L192.9 1629.3 L195.5 1634.8 L198.1 1640.2 L200.7 1645.6 L203.2 1650.9 L205.8 1656.2 L208.4 1661.4 L211.0 1666.5 L213.6 1671.6 L216.1 1676.6 L218.7 1681.5 L221.3 1686.3 L223.9 1691.1 L226.5 1695.8 L229.0 1700.5 L231.6 1705.0 L234.2 1709.6 L236.8 1714.0 L239.4 1718.5 L241.9 1722.8 L244.5 1727.2 L247.1 1731.5 L249.7 1735.7 L252.3 1739.9 L254.8 1744.1 L257.4 1748.2 L260.0 1752.3 L262.6 1756.3 L265.2 1760.3 L267.7 1764.3 L270.3 1768.2 L272.9 1772.0 L275.5 1775.8 L278.1 1779.6 L280.6 1783.3 L283.2 1786.9 L285.8 1790.5 L288.4 1794.0 L291.0 1797.5 L293.5 1800.9 L296.1 1804.3 L298.7 1807.6 L301.3 1810.8 L303.9 1814.0 L306.4 1817.1 L309.0 1820.2 L311.6 1823.2 L314.2 1826.2 L316.8 1829.1 L319.3 1832.0 L321.9 1834.8 L324.5 1837.6 L327.1 1840.3 L329.7 1843.0 L332.2 1845.6 L334.8 1848.2 L337.4 1850.8 L340.0 1853.3 L342.6 1855.7 L345.1 1858.2 L347.7 1860.5 L350.3 1862.9 L352.9 1865.2 L355.5 1867.5 L358.0 1869.7 L360.6 1872.0 L363.2 1874.1 L365.8 1876.3 L368.4 1878.4 L370.9 1880.5 L373.5 1882.6 L376.1 1884.7 L378.7 1886.7 L381.3 1888.7 L383.8 1890.7 L386.4 1892.6 L389.0 1894.6 L391.6 1896.5 L394.2 1898.4 L396.7 1900.3 L399.3 1902.1 L401.9 1904.0 L404.5 1905.8 L407.1 1907.6 L409.6 1909.4 L412.2 1911.2 L414.8 1913.0 L417.4 1914.7 L420.0 1916.5 L422.5 1918.2 L425.1 1919.9 L427.7 1921.6 L430.3 1923.3 L432.9 1925.0 L435.4 1926.7 L438.0 1928.3 L440.6 1930.0 L443.2 1931.6 L445.8 1933.2 L448.3 1934.8 L450.9 1936.4 L453.5 1938.0 L456.1 1939.6 L458.7 1941.1 L461.2 1942.7 L463.8 1944.2 L466.4 1945.8 L469.0 1947.3 L471.6 1948.8 L474.1 1950.3 L476.7 1951.8 L479.3 1953.3 L481.9 1954.8 L484.5 1956.2 L487.0 1957.7 L489.6 1959.2 L492.2 1960.6 L494.8 1962.0 L497.4 1963.5 L499.9 1964.9 L502.5 1966.3 L505.1 1967.7 L507.7 1969.1 L510.3 1970.5 L512.8 1971.8 L515.4 1973.2 L518.0 1974.6 L520.6 1975.9 L523.2 1977.3 L525.7 1978.6 L528.3 1979.9 L530.9 1981.3 L533.5 1982.6 L536.1 1983.9 L538.6 1985.2 L541.2 1986.5 L543.8 1987.8 L546.4 1989.0 L549.0 1990.3 L551.5 1991.6 L554.1 1992.8 L556.7 1994.1 L559.3 1995.3 L561.9 1996.6 L564.4 1997.8 L567.0 1999.0 L569.6 2000.2 L572.2 2001.5 L574.8 2002.7 L577.3 2003.9 L579.9 2005.1 L582.5 2006.2 L585.1 2007.4 L587.7 2008.6 L590.2 2009.8 L592.8 2010.9 L595.4 2012.1 L598.0 2013.2 L600.6 2014.4 L603.1 2015.5 L605.7 2016.6 L608.3 2017.8 L610.9 2018.9 L613.5 2020.0 L616.0 2021.1 L618.6 2022.2 L621.2 2023.3 L623.8 2024.4 L626.4 2025.5 L628.9 2026.6 L631.5 2027.6 L634.1 2028.7 L636.7 2029.8 L639.3 2030.8 L641.8 2031.9 L644.4 2032.9 L647.0 2034.0 L649.6 2035.0 L652.2 2036.0 L654.7 2037.0 L657.3 2038.0 L659.9 2039.1 L662.5 2040.1 L665.1 2041.1 L667.6 2042.1 L670.2 2043.0 L672.8 2044.0 L675.4 2045.0 L678.0 2046.0 L680.5 2046.9 L683.1 2047.9 L685.7 2048.9 L688.3 2049.8 L690.9 2050.7 L693.4 2051.7 L696.0 2052.6 L698.6 2053.5 L701.2 2054.5 L703.8 2055.4 L706.3 2056.3 L708.9 2057.2 L711.5 2058.1 L714.1 2059.0 L716.7 2059.9 L719.2 2060.8 L721.8 2061.6 L724.4 2062.5 L727.0 2063.4 L729.6 2064.3 L732.1 2065.1 L734.7 2066.0 L737.3 2066.8 L739.9 2067.7 L742.5 2068.5 L745.0 2069.3 L747.6 2070.1 L750.2 2071.0 L752.8 2071.8 L755.4 2072.6 L757.9 2073.4 L760.5 2074.2 L763.1 2075.0 L765.7 2075.8 L768.3 2076.6 L770.8 2077.4 L773.4 2078.1 L776.0 2078.9 L778.6 2079.7 L781.2 2080.4 L783.7 2081.2 L786.3 2082.0 L788.9 2082.7 L791.5 2083.5 L794.1 2084.2 L796.6 2084.9 L799.2 2085.7 L801.8 2086.4 L804.4 2087.1 L807.0 2087.8 L809.5 2088.5 L812.1 2089.2 L814.7 2089.9 L817.3 2090.6 L819.9 2091.3 L822.4 2092.0 L825.0 2092.7 L827.6 2093.4 L830.2 2094.1 L832.8 2094.7 L835.3 2095.4 L837.9 2096.1 L840.5 2096.7 L843.1 2097.4 L845.7 2098.1 L848.2 2098.7 L850.8 2099.4 L853.4 2100.0 L856.0 2100.6 L858.6 2101.3 L861.1 2101.9 L863.7 2102.5 L866.3 2103.1 L868.9 2103.8 L871.5 2104.4 L874.0 2105.0 L876.6 2105.6 L879.2 2106.2 L881.8 2106.8 L884.4 2107.4 L886.9 2108.0 L889.5 2108.6 L892.1 2109.2 L894.7 2109.8 L897.3 2110.3 L899.8 2110.9 L902.4 2111.5 L905.0 2112.1" fill="none" stroke="#231f20" stroke-width="5.5" stroke-dasharray="18.5 4.4 9.6 4.4" stroke-dashoffset="2.0" stroke-linejoin="round"/>
<path d="M154.5 1539.1 L156.8 1545.2 L159.4 1551.8 L162.0 1558.1 L164.5 1564.2 L167.1 1570.2 L169.7 1576.1 L172.3 1581.9 L174.9 1587.7 L177.4 1593.3 L180.0 1598.9 L182.6 1604.5 L185.2 1610.0 L187.8 1615.5 L190.3 1621.0 L192.9 1626.4 L195.5 1631.8 L198.1 1637.1 L200.7 1642.4 L203.2 1647.7 L205.8 1652.9 L208.4 1658.0 L211.0 1663.1 L213.6 1668.1 L216.1 1673.1 L218.7 1678.0 L221.3 1682.8 L223.9 1687.5 L226.5 1692.3 L229.0 1696.9 L231.6 1701.5 L234.2 1706.0 L236.8 1710.5 L239.4 1714.9 L241.9 1719.2 L244.5 1723.5 L247.1 1727.8 L249.7 1732.0 L252.3 1736.2 L254.8 1740.3 L257.4 1744.4 L260.0 1748.4 L262.6 1752.4 L265.2 1756.3 L267.7 1760.2 L270.3 1764.0 L272.9 1767.8 L275.5 1771.6 L278.1 1775.2 L280.6 1778.9 L283.2 1782.4 L285.8 1785.9 L288.4 1789.4 L291.0 1792.8 L293.5 1796.1 L296.1 1799.4 L298.7 1802.6 L301.3 1805.8 L303.9 1808.9 L306.4 1812.0 L309.0 1815.0 L311.6 1817.9 L314.2 1820.8 L316.8 1823.6 L319.3 1826.4 L321.9 1829.1 L324.5 1831.8 L327.1 1834.5 L329.7 1837.1 L332.2 1839.6 L334.8 1842.1 L337.4 1844.6 L340.0 1847.0 L342.6 1849.4 L345.1 1851.7 L347.7 1854.0 L350.3 1856.3 L352.9 1858.5 L355.5 1860.7 L358.0 1862.9 L360.6 1865.0 L363.2 1867.2 L365.8 1869.2 L368.4 1871.3 L370.9 1873.4 L373.5 1875.4 L376.1 1877.4 L378.7 1879.4 L381.3 1881.3 L383.8 1883.3 L386.4 1885.2 L389.0 1887.1 L391.6 1889.0 L394.2 1890.9 L396.7 1892.7 L399.3 1894.6 L401.9 1896.4 L404.5 1898.2 L407.1 1900.0 L409.6 1901.8 L412.2 1903.6 L414.8 1905.3 L417.4 1907.1 L420.0 1908.8 L422.5 1910.5 L425.1 1912.2 L427.7 1913.9 L430.3 1915.6 L432.9 1917.3 L435.4 1918.9 L438.0 1920.6 L440.6 1922.2 L443.2 1923.8 L445.8 1925.4 L448.3 1927.0 L450.9 1928.5 L453.5 1930.1 L456.1 1931.6 L458.7 1933.2 L461.2 1934.7 L463.8 1936.2 L466.4 1937.7 L469.0 1939.2 L471.6 1940.6 L474.1 1942.1 L476.7 1943.5 L479.3 1945.0 L481.9 1946.4 L484.5 1947.8 L487.0 1949.2 L489.6 1950.6 L492.2 1952.0 L494.8 1953.3 L497.4 1954.7 L499.9 1956.0 L502.5 1957.4 L505.1 1958.7 L507.7 1960.0 L510.3 1961.3 L512.8 1962.6 L515.4 1963.9 L518.0 1965.2 L520.6 1966.5 L523.2 1967.7 L525.7 1969.0 L528.3 1970.3 L530.9 1971.5 L533.5 1972.7 L536.1 1974.0 L538.6 1975.2 L541.2 1976.4 L543.8 1977.6 L546.4 1978.8 L549.0 1980.0 L551.5 1981.2 L554.1 1982.3 L556.7 1983.5 L559.3 1984.7 L561.9 1985.8 L564.4 1987.0 L567.0 1988.2 L569.6 1989.3 L572.2 1990.4 L574.8 1991.6 L577.3 1992.7 L579.9 1993.8 L582.5 1994.9 L585.1 1996.0 L587.7 1997.1 L590.2 1998.2 L592.8 1999.3 L595.4 2000.4 L598.0 2001.5 L600.6 2002.6 L603.1 2003.7 L605.7 2004.7 L608.3 2005.8 L610.9 2006.9 L613.5 2007.9 L616.0 2009.0 L618.6 2010.0 L621.2 2011.0 L623.8 2012.1 L626.4 2013.1 L628.9 2014.1 L631.5 2015.2 L634.1 2016.2 L636.7 2017.2 L639.3 2018.2 L641.8 2019.2 L644.4 2020.2 L647.0 2021.2 L649.6 2022.2 L652.2 2023.1 L654.7 2024.1 L657.3 2025.1 L659.9 2026.1 L662.5 2027.0 L665.1 2028.0 L667.6 2028.9 L670.2 2029.9 L672.8 2030.8 L675.4 2031.8 L678.0 2032.7 L680.5 2033.6 L683.1 2034.5 L685.7 2035.5 L688.3 2036.4 L690.9 2037.3 L693.4 2038.2 L696.0 2039.1 L698.6 2040.0 L701.2 2040.9 L703.8 2041.7 L706.3 2042.6 L708.9 2043.5 L711.5 2044.4 L714.1 2045.2 L716.7 2046.1 L719.2 2047.0 L721.8 2047.8 L724.4 2048.7 L727.0 2049.5 L729.6 2050.3 L732.1 2051.2 L734.7 2052.0 L737.3 2052.8 L739.9 2053.6 L742.5 2054.4 L745.0 2055.3 L747.6 2056.1 L750.2 2056.9 L752.8 2057.7 L755.4 2058.4 L757.9 2059.2 L760.5 2060.0 L763.1 2060.8 L765.7 2061.6 L768.3 2062.3 L770.8 2063.1 L773.4 2063.9 L776.0 2064.6 L778.6 2065.4 L781.2 2066.1 L783.7 2066.9 L786.3 2067.6 L788.9 2068.3 L791.5 2069.1 L794.1 2069.8 L796.6 2070.5 L799.2 2071.2 L801.8 2072.0 L804.4 2072.7 L807.0 2073.4 L809.5 2074.1 L812.1 2074.8 L814.7 2075.5 L817.3 2076.2 L819.9 2076.8 L822.4 2077.5 L825.0 2078.2 L827.6 2078.9 L830.2 2079.6 L832.8 2080.2 L835.3 2080.9 L837.9 2081.6 L840.5 2082.2 L843.1 2082.9 L845.7 2083.5 L848.2 2084.2 L850.8 2084.8 L853.4 2085.5 L856.0 2086.1 L858.6 2086.7 L861.1 2087.4 L863.7 2088.0 L866.3 2088.6 L868.9 2089.2 L871.5 2089.9 L874.0 2090.5 L876.6 2091.1 L879.2 2091.7 L881.8 2092.3 L884.4 2092.9 L886.9 2093.5 L889.5 2094.1 L892.1 2094.7 L894.7 2095.3 L897.3 2095.9 L899.8 2096.5 L902.4 2097.0 L905.0 2097.6" fill="none" stroke="#231f20" stroke-width="5.5" stroke-linejoin="round"/>
<rect x="741.05" y="1548.85" width="146.8" height="161.4" fill="#fff" stroke="#231f20" stroke-width="2.1"/>
<path d="M747.8 1579.8h73.1" stroke="#231f20" stroke-width="5.5" fill="none"/>
<path d="M747.8 1630.5h55.3" stroke="#231f20" stroke-width="5.5" stroke-dasharray="18.5 18.3" fill="none"/>
<path d="M747.8 1679.7h69" stroke="#231f20" stroke-width="5.5" stroke-dasharray="18.5 4.4 9.6 4.4" fill="none"/>
<text class="t i" x="833.6" y="1586">G<tspan class="s" style="font-style:normal" dx="-2.2" dy="8.6">1</tspan></text>
<text class="t i" x="833.6" y="1639.8">G<tspan class="s" style="font-style:normal" dx="-2.2" dy="8.6">2</tspan></text>
<text class="t i" x="833.6" y="1692.7">G<tspan class="s" style="font-style:normal" dx="-2.2" dy="8.6">0</tspan></text>
</g>
<g id="p_e">
<path d="M1134.2 1529 V2131.8 H1909.3" fill="none" stroke="#231f20" stroke-width="2.2" stroke-linejoin="miter"/>
<text class="t" x="1051.4" y="1541.8" textLength="70.4" lengthAdjust="spacing">16.8</text>
<text class="t" x="1051.4" y="1617.01" textLength="70.4" lengthAdjust="spacing">16.6</text>
<text class="t" x="1051.4" y="1692.22" textLength="70.4" lengthAdjust="spacing">16.4</text>
<text class="t" x="1051.4" y="1767.44" textLength="70.4" lengthAdjust="spacing">16.2</text>
<text class="t" x="1051.4" y="1842.65" textLength="70.4" lengthAdjust="spacing">16.0</text>
<text class="t" x="1051.4" y="1917.86" textLength="70.4" lengthAdjust="spacing">15.8</text>
<text class="t" x="1051.4" y="1993.08" textLength="70.4" lengthAdjust="spacing">15.6</text>
<text class="t" x="1051.4" y="2068.29" textLength="70.4" lengthAdjust="spacing">15.4</text>
<text class="t" x="1051.4" y="2143.5" textLength="70.4" lengthAdjust="spacing">15.2</text>
<text class="t" x="1134.2" y="2184.4" text-anchor="middle">0</text>
<text class="t" x="1263.2" y="2184.4" text-anchor="middle">50</text>
<text class="t" x="1362.5" y="2184.4" textLength="59.4" lengthAdjust="spacing">100</text>
<text class="t" x="1491.5" y="2184.4" textLength="59.4" lengthAdjust="spacing">150</text>
<text class="t" x="1650.2" y="2184.4" text-anchor="middle">200</text>
<text class="t" x="1779.2" y="2184.4" text-anchor="middle">250</text>
<text class="t" x="1908.2" y="2184.4" text-anchor="middle">300</text>
<path d="M1134.2 1530.1h15M1134.2 1605.31h15M1134.2 1680.52h15M1134.2 1755.74h15M1134.2 1830.95h15M1134.2 1906.16h15M1134.2 1981.38h15M1134.2 2056.59h15M1134.2 2131.8h15M1263.2 2131.8v-15M1392.2 2131.8v-15M1521.2 2131.8v-15M1650.2 2131.8v-15M1779.2 2131.8v-15M1908.2 2131.8v-15" fill="none" stroke="#231f20" stroke-width="2.2"/>
<text class="tt" x="1522.8" y="1541" text-anchor="middle">(е)</text>
<text class="t" x="1471.4" y="2222.5" textLength="98.5" lengthAdjust="spacing"><tspan class="i">R</tspan>, км</text>
<text style="font-size:40.3px" transform="translate(1038 1906.7) rotate(-90)">10lg (<tspan class="i">G</tspan>)</text>
<path d="M1158.2 1554.7 L1160.0 1557.9 L1162.6 1562.5 L1165.2 1567.1 L1167.7 1571.7 L1170.3 1576.3 L1172.9 1580.9 L1175.5 1585.4 L1178.1 1590.0 L1180.6 1594.6 L1183.2 1599.2 L1185.8 1603.8 L1188.4 1608.4 L1191.0 1613.0 L1193.5 1617.6 L1196.1 1622.2 L1198.7 1626.8 L1201.3 1631.3 L1203.9 1635.9 L1206.4 1640.4 L1209.0 1644.8 L1211.6 1649.2 L1214.2 1653.5 L1216.8 1657.8 L1219.3 1662.0 L1221.9 1666.1 L1224.5 1670.1 L1227.1 1674.1 L1229.7 1678.0 L1232.2 1681.9 L1234.8 1685.7 L1237.4 1689.5 L1240.0 1693.2 L1242.6 1696.9 L1245.1 1700.5 L1247.7 1704.1 L1250.3 1707.6 L1252.9 1711.1 L1255.5 1714.6 L1258.0 1718.0 L1260.6 1721.4 L1263.2 1724.7 L1265.8 1728.0 L1268.4 1731.2 L1270.9 1734.4 L1273.5 1737.5 L1276.1 1740.6 L1278.7 1743.7 L1281.3 1746.6 L1283.8 1749.6 L1286.4 1752.5 L1289.0 1755.3 L1291.6 1758.1 L1294.2 1760.9 L1296.7 1763.6 L1299.3 1766.2 L1301.9 1768.9 L1304.5 1771.4 L1307.1 1774.0 L1309.6 1776.5 L1312.2 1778.9 L1314.8 1781.3 L1317.4 1783.7 L1320.0 1786.0 L1322.5 1788.3 L1325.1 1790.6 L1327.7 1792.8 L1330.3 1795.0 L1332.9 1797.2 L1335.4 1799.3 L1338.0 1801.4 L1340.6 1803.5 L1343.2 1805.5 L1345.8 1807.5 L1348.3 1809.5 L1350.9 1811.5 L1353.5 1813.4 L1356.1 1815.3 L1358.7 1817.2 L1361.2 1819.1 L1363.8 1820.9 L1366.4 1822.7 L1369.0 1824.5 L1371.6 1826.3 L1374.1 1828.1 L1376.7 1829.8 L1379.3 1831.6 L1381.9 1833.3 L1384.5 1835.0 L1387.0 1836.7 L1389.6 1838.3 L1392.2 1840.0 L1394.8 1841.6 L1397.4 1843.2 L1399.9 1844.8 L1402.5 1846.4 L1405.1 1848.0 L1407.7 1849.5 L1410.3 1851.1 L1412.8 1852.6 L1415.4 1854.1 L1418.0 1855.7 L1420.6 1857.2 L1423.2 1858.6 L1425.7 1860.1 L1428.3 1861.6 L1430.9 1863.0 L1433.5 1864.4 L1436.1 1865.9 L1438.6 1867.3 L1441.2 1868.7 L1443.8 1870.1 L1446.4 1871.4 L1449.0 1872.8 L1451.5 1874.2 L1454.1 1875.5 L1456.7 1876.9 L1459.3 1878.2 L1461.9 1879.5 L1464.4 1880.8 L1467.0 1882.1 L1469.6 1883.4 L1472.2 1884.7 L1474.8 1886.0 L1477.3 1887.2 L1479.9 1888.5 L1482.5 1889.7 L1485.1 1891.0 L1487.7 1892.2 L1490.2 1893.4 L1492.8 1894.7 L1495.4 1895.9 L1498.0 1897.1 L1500.6 1898.3 L1503.1 1899.4 L1505.7 1900.6 L1508.3 1901.8 L1510.9 1902.9 L1513.5 1904.1 L1516.0 1905.2 L1518.6 1906.4 L1521.2 1907.5 L1523.8 1908.6 L1526.4 1909.8 L1528.9 1910.9 L1531.5 1912.0 L1534.1 1913.1 L1536.7 1914.2 L1539.3 1915.2 L1541.8 1916.3 L1544.4 1917.4 L1547.0 1918.4 L1549.6 1919.5 L1552.2 1920.6 L1554.7 1921.6 L1557.3 1922.6 L1559.9 1923.7 L1562.5 1924.7 L1565.1 1925.7 L1567.6 1926.7 L1570.2 1927.7 L1572.8 1928.7 L1575.4 1929.7 L1578.0 1930.7 L1580.5 1931.7 L1583.1 1932.7 L1585.7 1933.7 L1588.3 1934.6 L1590.9 1935.6 L1593.4 1936.5 L1596.0 1937.5 L1598.6 1938.4 L1601.2 1939.4 L1603.8 1940.3 L1606.3 1941.2 L1608.9 1942.1 L1611.5 1943.1 L1614.1 1944.0 L1616.7 1944.9 L1619.2 1945.8 L1621.8 1946.7 L1624.4 1947.6 L1627.0 1948.4 L1629.6 1949.3 L1632.1 1950.2 L1634.7 1951.1 L1637.3 1951.9 L1639.9 1952.8 L1642.5 1953.6 L1645.0 1954.5 L1647.6 1955.3 L1650.2 1956.1 L1652.8 1957.0 L1655.4 1957.8 L1657.9 1958.6 L1660.5 1959.4 L1663.1 1960.2 L1665.7 1961.0 L1668.3 1961.8 L1670.8 1962.6 L1673.4 1963.4 L1676.0 1964.2 L1678.6 1965.0 L1681.2 1965.7 L1683.7 1966.5 L1686.3 1967.2 L1688.9 1968.0 L1691.5 1968.8 L1694.1 1969.5 L1696.6 1970.2 L1699.2 1971.0 L1701.8 1971.7 L1704.4 1972.4 L1707.0 1973.1 L1709.5 1973.9 L1712.1 1974.6 L1714.7 1975.3 L1717.3 1976.0 L1719.9 1976.7 L1722.4 1977.4 L1725.0 1978.0 L1727.6 1978.7 L1730.2 1979.4 L1732.8 1980.1 L1735.3 1980.7 L1737.9 1981.4 L1740.5 1982.0 L1743.1 1982.7 L1745.7 1983.3 L1748.2 1984.0 L1750.8 1984.6 L1753.4 1985.3 L1756.0 1985.9 L1758.6 1986.5 L1761.1 1987.1 L1763.7 1987.7 L1766.3 1988.4 L1768.9 1989.0 L1771.5 1989.6 L1774.0 1990.2 L1776.6 1990.7 L1779.2 1991.3 L1781.8 1991.9 L1784.4 1992.5 L1786.9 1993.1 L1789.5 1993.6 L1792.1 1994.2 L1794.7 1994.8 L1797.3 1995.3 L1799.8 1995.9 L1802.4 1996.4 L1805.0 1997.0 L1807.6 1997.5 L1810.2 1998.1 L1812.7 1998.6 L1815.3 1999.1 L1817.9 1999.6 L1820.5 2000.2 L1823.1 2000.7 L1825.6 2001.2 L1828.2 2001.7 L1830.8 2002.2 L1833.4 2002.7 L1836.0 2003.2 L1838.5 2003.7 L1841.1 2004.2 L1843.7 2004.7 L1846.3 2005.2 L1848.9 2005.7 L1851.4 2006.1 L1854.0 2006.6 L1856.6 2007.1 L1859.2 2007.5 L1861.8 2008.0 L1864.3 2008.5 L1866.9 2008.9 L1869.5 2009.4 L1872.1 2009.8 L1874.7 2010.3 L1877.2 2010.7 L1879.8 2011.1 L1882.4 2011.6 L1885.0 2012.0 L1887.6 2012.4 L1890.1 2012.9 L1892.7 2013.3 L1895.3 2013.7 L1897.9 2014.1 L1900.5 2014.6 L1903.0 2015.0 L1905.6 2015.4 L1908.2 2015.8" fill="none" stroke="#231f20" stroke-width="5.5" stroke-dasharray="18.5 18.3" stroke-dashoffset="1.0" stroke-linejoin="round"/>
<path d="M1159.0 1609.5 L1162.6 1612.7 L1165.2 1615.3 L1167.7 1618.0 L1170.3 1620.8 L1172.9 1623.9 L1175.5 1627.0 L1178.1 1630.4 L1180.6 1633.8 L1183.2 1637.4 L1185.8 1641.1 L1188.4 1644.8 L1191.0 1648.6 L1193.5 1652.5 L1196.1 1656.3 L1198.7 1660.2 L1201.3 1664.1 L1203.9 1668.0 L1206.4 1672.0 L1209.0 1675.9 L1211.6 1679.8 L1214.2 1683.7 L1216.8 1687.6 L1219.3 1691.6 L1221.9 1695.5 L1224.5 1699.4 L1227.1 1703.2 L1229.7 1707.1 L1232.2 1710.9 L1234.8 1714.6 L1237.4 1718.4 L1240.0 1722.1 L1242.6 1725.8 L1245.1 1729.4 L1247.7 1733.0 L1250.3 1736.5 L1252.9 1740.1 L1255.5 1743.5 L1258.0 1747.0 L1260.6 1750.4 L1263.2 1753.7 L1265.8 1757.1 L1268.4 1760.3 L1270.9 1763.6 L1273.5 1766.8 L1276.1 1770.0 L1278.7 1773.1 L1281.3 1776.2 L1283.8 1779.3 L1286.4 1782.3 L1289.0 1785.3 L1291.6 1788.3 L1294.2 1791.2 L1296.7 1794.1 L1299.3 1796.9 L1301.9 1799.8 L1304.5 1802.5 L1307.1 1805.3 L1309.6 1808.0 L1312.2 1810.7 L1314.8 1813.3 L1317.4 1815.9 L1320.0 1818.5 L1322.5 1821.1 L1325.1 1823.6 L1327.7 1826.1 L1330.3 1828.5 L1332.9 1830.9 L1335.4 1833.3 L1338.0 1835.7 L1340.6 1838.0 L1343.2 1840.3 L1345.8 1842.6 L1348.3 1844.8 L1350.9 1847.0 L1353.5 1849.2 L1356.1 1851.4 L1358.7 1853.5 L1361.2 1855.6 L1363.8 1857.7 L1366.4 1859.8 L1369.0 1861.8 L1371.6 1863.9 L1374.1 1865.9 L1376.7 1867.9 L1379.3 1869.8 L1381.9 1871.8 L1384.5 1873.7 L1387.0 1875.6 L1389.6 1877.5 L1392.2 1879.4 L1394.8 1881.2 L1397.4 1883.1 L1399.9 1884.9 L1402.5 1886.7 L1405.1 1888.5 L1407.7 1890.3 L1410.3 1892.0 L1412.8 1893.8 L1415.4 1895.5 L1418.0 1897.3 L1420.6 1899.0 L1423.2 1900.7 L1425.7 1902.3 L1428.3 1904.0 L1430.9 1905.7 L1433.5 1907.3 L1436.1 1909.0 L1438.6 1910.6 L1441.2 1912.2 L1443.8 1913.8 L1446.4 1915.4 L1449.0 1917.0 L1451.5 1918.6 L1454.1 1920.2 L1456.7 1921.7 L1459.3 1923.3 L1461.9 1924.8 L1464.4 1926.3 L1467.0 1927.9 L1469.6 1929.4 L1472.2 1930.9 L1474.8 1932.4 L1477.3 1933.8 L1479.9 1935.3 L1482.5 1936.8 L1485.1 1938.2 L1487.7 1939.7 L1490.2 1941.1 L1492.8 1942.6 L1495.4 1944.0 L1498.0 1945.4 L1500.6 1946.8 L1503.1 1948.2 L1505.7 1949.6 L1508.3 1950.9 L1510.9 1952.3 L1513.5 1953.7 L1516.0 1955.0 L1518.6 1956.4 L1521.2 1957.7 L1523.8 1959.0 L1526.4 1960.4 L1528.9 1961.7 L1531.5 1963.0 L1534.1 1964.3 L1536.7 1965.6 L1539.3 1966.9 L1541.8 1968.2 L1544.4 1969.4 L1547.0 1970.7 L1549.6 1972.0 L1552.2 1973.2 L1554.7 1974.5 L1557.3 1975.7 L1559.9 1976.9 L1562.5 1978.2 L1565.1 1979.4 L1567.6 1980.6 L1570.2 1981.8 L1572.8 1983.0 L1575.4 1984.2 L1578.0 1985.4 L1580.5 1986.6 L1583.1 1987.7 L1585.7 1988.9 L1588.3 1990.1 L1590.9 1991.2 L1593.4 1992.4 L1596.0 1993.5 L1598.6 1994.7 L1601.2 1995.8 L1603.8 1996.9 L1606.3 1998.1 L1608.9 1999.2 L1611.5 2000.3 L1614.1 2001.4 L1616.7 2002.5 L1619.2 2003.6 L1621.8 2004.7 L1624.4 2005.7 L1627.0 2006.8 L1629.6 2007.9 L1632.1 2009.0 L1634.7 2010.0 L1637.3 2011.1 L1639.9 2012.1 L1642.5 2013.2 L1645.0 2014.2 L1647.6 2015.2 L1650.2 2016.2 L1652.8 2017.3 L1655.4 2018.3 L1657.9 2019.3 L1660.5 2020.3 L1663.1 2021.3 L1665.7 2022.2 L1668.3 2023.2 L1670.8 2024.2 L1673.4 2025.2 L1676.0 2026.1 L1678.6 2027.1 L1681.2 2028.0 L1683.7 2029.0 L1686.3 2029.9 L1688.9 2030.9 L1691.5 2031.8 L1694.1 2032.7 L1696.6 2033.6 L1699.2 2034.5 L1701.8 2035.4 L1704.4 2036.3 L1707.0 2037.2 L1709.5 2038.1 L1712.1 2039.0 L1714.7 2039.9 L1717.3 2040.7 L1719.9 2041.6 L1722.4 2042.4 L1725.0 2043.3 L1727.6 2044.1 L1730.2 2045.0 L1732.8 2045.8 L1735.3 2046.6 L1737.9 2047.4 L1740.5 2048.3 L1743.1 2049.1 L1745.7 2049.9 L1748.2 2050.7 L1750.8 2051.4 L1753.4 2052.2 L1756.0 2053.0 L1758.6 2053.8 L1761.1 2054.6 L1763.7 2055.3 L1766.3 2056.1 L1768.9 2056.8 L1771.5 2057.6 L1774.0 2058.3 L1776.6 2059.0 L1779.2 2059.8 L1781.8 2060.5 L1784.4 2061.2 L1786.9 2061.9 L1789.5 2062.6 L1792.1 2063.3 L1794.7 2064.0 L1797.3 2064.7 L1799.8 2065.4 L1802.4 2066.1 L1805.0 2066.8 L1807.6 2067.4 L1810.2 2068.1 L1812.7 2068.8 L1815.3 2069.4 L1817.9 2070.1 L1820.5 2070.7 L1823.1 2071.3 L1825.6 2072.0 L1828.2 2072.6 L1830.8 2073.2 L1833.4 2073.9 L1836.0 2074.5 L1838.5 2075.1 L1841.1 2075.7 L1843.7 2076.3 L1846.3 2076.9 L1848.9 2077.5 L1851.4 2078.1 L1854.0 2078.7 L1856.6 2079.2 L1859.2 2079.8 L1861.8 2080.4 L1864.3 2081.0 L1866.9 2081.5 L1869.5 2082.1 L1872.1 2082.6 L1874.7 2083.2 L1877.2 2083.7 L1879.8 2084.3 L1882.4 2084.8 L1885.0 2085.4 L1887.6 2085.9 L1890.1 2086.4 L1892.7 2086.9 L1895.3 2087.5 L1897.9 2088.0 L1900.5 2088.5 L1903.0 2089.0 L1905.6 2089.5 L1908.2 2090.0" fill="none" stroke="#231f20" stroke-width="5.5" stroke-dasharray="18.5 4.4 9.6 4.4" stroke-dashoffset="2.0" stroke-linejoin="round"/>
<path d="M1158.2 1556.7 L1160.0 1560.3 L1162.6 1565.3 L1165.2 1570.3 L1167.7 1575.4 L1170.3 1580.4 L1172.9 1585.5 L1175.5 1590.5 L1178.1 1595.6 L1180.6 1600.6 L1183.2 1605.6 L1185.8 1610.7 L1188.4 1615.7 L1191.0 1620.7 L1193.5 1625.6 L1196.1 1630.5 L1198.7 1635.4 L1201.3 1640.1 L1203.9 1644.9 L1206.4 1649.5 L1209.0 1654.1 L1211.6 1658.6 L1214.2 1663.1 L1216.8 1667.5 L1219.3 1671.8 L1221.9 1676.1 L1224.5 1680.3 L1227.1 1684.4 L1229.7 1688.5 L1232.2 1692.5 L1234.8 1696.5 L1237.4 1700.4 L1240.0 1704.3 L1242.6 1708.2 L1245.1 1712.0 L1247.7 1715.7 L1250.3 1719.5 L1252.9 1723.1 L1255.5 1726.8 L1258.0 1730.4 L1260.6 1734.1 L1263.2 1737.6 L1265.8 1741.2 L1268.4 1744.7 L1270.9 1748.2 L1273.5 1751.6 L1276.1 1755.0 L1278.7 1758.4 L1281.3 1761.8 L1283.8 1765.1 L1286.4 1768.3 L1289.0 1771.6 L1291.6 1774.8 L1294.2 1777.9 L1296.7 1781.1 L1299.3 1784.2 L1301.9 1787.2 L1304.5 1790.2 L1307.1 1793.2 L1309.6 1796.1 L1312.2 1799.0 L1314.8 1801.8 L1317.4 1804.6 L1320.0 1807.3 L1322.5 1810.1 L1325.1 1812.7 L1327.7 1815.3 L1330.3 1817.9 L1332.9 1820.5 L1335.4 1823.0 L1338.0 1825.4 L1340.6 1827.8 L1343.2 1830.2 L1345.8 1832.5 L1348.3 1834.8 L1350.9 1837.1 L1353.5 1839.3 L1356.1 1841.5 L1358.7 1843.7 L1361.2 1845.8 L1363.8 1847.9 L1366.4 1850.0 L1369.0 1852.0 L1371.6 1854.1 L1374.1 1856.1 L1376.7 1858.0 L1379.3 1860.0 L1381.9 1861.9 L1384.5 1863.8 L1387.0 1865.6 L1389.6 1867.5 L1392.2 1869.3 L1394.8 1871.1 L1397.4 1872.9 L1399.9 1874.7 L1402.5 1876.4 L1405.1 1878.2 L1407.7 1879.9 L1410.3 1881.6 L1412.8 1883.3 L1415.4 1885.0 L1418.0 1886.7 L1420.6 1888.3 L1423.2 1889.9 L1425.7 1891.6 L1428.3 1893.2 L1430.9 1894.8 L1433.5 1896.4 L1436.1 1898.0 L1438.6 1899.5 L1441.2 1901.1 L1443.8 1902.6 L1446.4 1904.2 L1449.0 1905.7 L1451.5 1907.2 L1454.1 1908.7 L1456.7 1910.2 L1459.3 1911.7 L1461.9 1913.2 L1464.4 1914.7 L1467.0 1916.1 L1469.6 1917.6 L1472.2 1919.0 L1474.8 1920.5 L1477.3 1921.9 L1479.9 1923.3 L1482.5 1924.7 L1485.1 1926.1 L1487.7 1927.5 L1490.2 1928.9 L1492.8 1930.3 L1495.4 1931.7 L1498.0 1933.1 L1500.6 1934.5 L1503.1 1935.8 L1505.7 1937.2 L1508.3 1938.5 L1510.9 1939.9 L1513.5 1941.2 L1516.0 1942.5 L1518.6 1943.8 L1521.2 1945.2 L1523.8 1946.5 L1526.4 1947.8 L1528.9 1949.1 L1531.5 1950.4 L1534.1 1951.7 L1536.7 1953.0 L1539.3 1954.2 L1541.8 1955.5 L1544.4 1956.8 L1547.0 1958.0 L1549.6 1959.3 L1552.2 1960.5 L1554.7 1961.8 L1557.3 1963.0 L1559.9 1964.3 L1562.5 1965.5 L1565.1 1966.7 L1567.6 1967.9 L1570.2 1969.1 L1572.8 1970.3 L1575.4 1971.5 L1578.0 1972.7 L1580.5 1973.9 L1583.1 1975.1 L1585.7 1976.3 L1588.3 1977.4 L1590.9 1978.6 L1593.4 1979.8 L1596.0 1980.9 L1598.6 1982.1 L1601.2 1983.2 L1603.8 1984.3 L1606.3 1985.5 L1608.9 1986.6 L1611.5 1987.7 L1614.1 1988.8 L1616.7 1989.9 L1619.2 1991.0 L1621.8 1992.1 L1624.4 1993.2 L1627.0 1994.3 L1629.6 1995.3 L1632.1 1996.4 L1634.7 1997.5 L1637.3 1998.5 L1639.9 1999.6 L1642.5 2000.6 L1645.0 2001.6 L1647.6 2002.7 L1650.2 2003.7 L1652.8 2004.7 L1655.4 2005.7 L1657.9 2006.7 L1660.5 2007.7 L1663.1 2008.7 L1665.7 2009.7 L1668.3 2010.7 L1670.8 2011.6 L1673.4 2012.6 L1676.0 2013.6 L1678.6 2014.5 L1681.2 2015.4 L1683.7 2016.4 L1686.3 2017.3 L1688.9 2018.2 L1691.5 2019.2 L1694.1 2020.1 L1696.6 2021.0 L1699.2 2021.9 L1701.8 2022.8 L1704.4 2023.7 L1707.0 2024.5 L1709.5 2025.4 L1712.1 2026.3 L1714.7 2027.1 L1717.3 2028.0 L1719.9 2028.8 L1722.4 2029.7 L1725.0 2030.5 L1727.6 2031.3 L1730.2 2032.2 L1732.8 2033.0 L1735.3 2033.8 L1737.9 2034.6 L1740.5 2035.4 L1743.1 2036.2 L1745.7 2037.0 L1748.2 2037.7 L1750.8 2038.5 L1753.4 2039.3 L1756.0 2040.0 L1758.6 2040.8 L1761.1 2041.5 L1763.7 2042.3 L1766.3 2043.0 L1768.9 2043.8 L1771.5 2044.5 L1774.0 2045.2 L1776.6 2045.9 L1779.2 2046.6 L1781.8 2047.3 L1784.4 2048.0 L1786.9 2048.7 L1789.5 2049.4 L1792.1 2050.1 L1794.7 2050.8 L1797.3 2051.4 L1799.8 2052.1 L1802.4 2052.8 L1805.0 2053.4 L1807.6 2054.1 L1810.2 2054.7 L1812.7 2055.4 L1815.3 2056.0 L1817.9 2056.6 L1820.5 2057.3 L1823.1 2057.9 L1825.6 2058.5 L1828.2 2059.1 L1830.8 2059.7 L1833.4 2060.3 L1836.0 2060.9 L1838.5 2061.5 L1841.1 2062.1 L1843.7 2062.7 L1846.3 2063.2 L1848.9 2063.8 L1851.4 2064.4 L1854.0 2064.9 L1856.6 2065.5 L1859.2 2066.1 L1861.8 2066.6 L1864.3 2067.2 L1866.9 2067.7 L1869.5 2068.2 L1872.1 2068.8 L1874.7 2069.3 L1877.2 2069.8 L1879.8 2070.3 L1882.4 2070.9 L1885.0 2071.4 L1887.6 2071.9 L1890.1 2072.4 L1892.7 2072.9 L1895.3 2073.4 L1897.9 2073.9 L1900.5 2074.4 L1903.0 2074.9 L1905.6 2075.3 L1908.2 2075.8" fill="none" stroke="#231f20" stroke-width="5.5" stroke-linejoin="round"/>
<rect x="1744.25" y="1548.85" width="146.8" height="161.4" fill="#fff" stroke="#231f20" stroke-width="2.1"/>
<path d="M1751 1579.8h73.1" stroke="#231f20" stroke-width="5.5" fill="none"/>
<path d="M1751 1630.5h55.3" stroke="#231f20" stroke-width="5.5" stroke-dasharray="18.5 18.3" fill="none"/>
<path d="M1751 1679.7h69" stroke="#231f20" stroke-width="5.5" stroke-dasharray="18.5 4.4 9.6 4.4" fill="none"/>
<text class="t i" x="1836.8" y="1586">G<tspan class="s" style="font-style:normal" dx="-2.2" dy="8.6">1</tspan></text>
<text class="t i" x="1836.8" y="1639.8">G<tspan class="s" style="font-style:normal" dx="-2.2" dy="8.6">2</tspan></text>
<text class="t i" x="1836.8" y="1692.7">G<tspan class="s" style="font-style:normal" dx="-2.2" dy="8.6">0</tspan></text>
</g>
</svg></body></html>
